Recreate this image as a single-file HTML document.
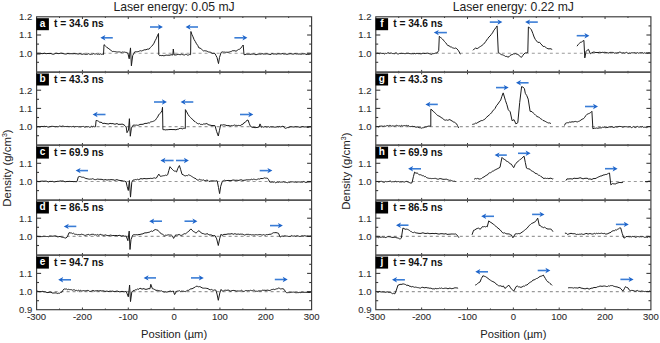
<!DOCTYPE html><html><head><meta charset="utf-8"><style>html,body{margin:0;padding:0;background:#fff;width:660px;height:343px;overflow:hidden}svg{display:block}</style></head><body><svg width="660" height="343" viewBox="0 0 660 343"><rect width="660" height="343" fill="#fff"/><line x1="36.6" y1="53.2" x2="311.6" y2="53.2" stroke="#9a9a9a" stroke-width="1.1" stroke-dasharray="3 3"/><line x1="36.6" y1="126.6" x2="311.6" y2="126.6" stroke="#9a9a9a" stroke-width="1.1" stroke-dasharray="3 3"/><line x1="36.6" y1="181.5" x2="311.6" y2="181.5" stroke="#9a9a9a" stroke-width="1.1" stroke-dasharray="3 3"/><line x1="36.6" y1="236.4" x2="311.6" y2="236.4" stroke="#9a9a9a" stroke-width="1.1" stroke-dasharray="3 3"/><line x1="36.6" y1="291.6" x2="311.6" y2="291.6" stroke="#9a9a9a" stroke-width="1.1" stroke-dasharray="3 3"/><line x1="36.6" y1="62.3" x2="39" y2="62.3" stroke="#3a3a3a" stroke-width="1.1"/><line x1="311.6" y1="62.3" x2="309.2" y2="62.3" stroke="#3a3a3a" stroke-width="1.1"/><line x1="36.6" y1="53.2" x2="41.1" y2="53.2" stroke="#3a3a3a" stroke-width="1.1"/><line x1="311.6" y1="53.2" x2="307.1" y2="53.2" stroke="#3a3a3a" stroke-width="1.1"/><line x1="36.6" y1="44.1" x2="39" y2="44.1" stroke="#3a3a3a" stroke-width="1.1"/><line x1="311.6" y1="44.1" x2="309.2" y2="44.1" stroke="#3a3a3a" stroke-width="1.1"/><line x1="36.6" y1="35" x2="41.1" y2="35" stroke="#3a3a3a" stroke-width="1.1"/><line x1="311.6" y1="35" x2="307.1" y2="35" stroke="#3a3a3a" stroke-width="1.1"/><line x1="36.6" y1="25.9" x2="39" y2="25.9" stroke="#3a3a3a" stroke-width="1.1"/><line x1="311.6" y1="25.9" x2="309.2" y2="25.9" stroke="#3a3a3a" stroke-width="1.1"/><line x1="59.52" y1="16.8" x2="59.52" y2="18" stroke="#3a3a3a" stroke-width="1"/><line x1="59.52" y1="72.1" x2="59.52" y2="70.9" stroke="#3a3a3a" stroke-width="1"/><line x1="82.43" y1="16.8" x2="82.43" y2="19" stroke="#3a3a3a" stroke-width="1"/><line x1="82.43" y1="72.1" x2="82.43" y2="69.9" stroke="#3a3a3a" stroke-width="1"/><line x1="105.35" y1="16.8" x2="105.35" y2="18" stroke="#3a3a3a" stroke-width="1"/><line x1="105.35" y1="72.1" x2="105.35" y2="70.9" stroke="#3a3a3a" stroke-width="1"/><line x1="128.27" y1="16.8" x2="128.27" y2="19" stroke="#3a3a3a" stroke-width="1"/><line x1="128.27" y1="72.1" x2="128.27" y2="69.9" stroke="#3a3a3a" stroke-width="1"/><line x1="151.18" y1="16.8" x2="151.18" y2="18" stroke="#3a3a3a" stroke-width="1"/><line x1="151.18" y1="72.1" x2="151.18" y2="70.9" stroke="#3a3a3a" stroke-width="1"/><line x1="174.1" y1="16.8" x2="174.1" y2="19" stroke="#3a3a3a" stroke-width="1"/><line x1="174.1" y1="72.1" x2="174.1" y2="69.9" stroke="#3a3a3a" stroke-width="1"/><line x1="197.02" y1="16.8" x2="197.02" y2="18" stroke="#3a3a3a" stroke-width="1"/><line x1="197.02" y1="72.1" x2="197.02" y2="70.9" stroke="#3a3a3a" stroke-width="1"/><line x1="219.93" y1="16.8" x2="219.93" y2="19" stroke="#3a3a3a" stroke-width="1"/><line x1="219.93" y1="72.1" x2="219.93" y2="69.9" stroke="#3a3a3a" stroke-width="1"/><line x1="242.85" y1="16.8" x2="242.85" y2="18" stroke="#3a3a3a" stroke-width="1"/><line x1="242.85" y1="72.1" x2="242.85" y2="70.9" stroke="#3a3a3a" stroke-width="1"/><line x1="265.77" y1="16.8" x2="265.77" y2="19" stroke="#3a3a3a" stroke-width="1"/><line x1="265.77" y1="72.1" x2="265.77" y2="69.9" stroke="#3a3a3a" stroke-width="1"/><line x1="288.68" y1="16.8" x2="288.68" y2="18" stroke="#3a3a3a" stroke-width="1"/><line x1="288.68" y1="72.1" x2="288.68" y2="70.9" stroke="#3a3a3a" stroke-width="1"/><line x1="36.6" y1="135.7" x2="39" y2="135.7" stroke="#3a3a3a" stroke-width="1.1"/><line x1="311.6" y1="135.7" x2="309.2" y2="135.7" stroke="#3a3a3a" stroke-width="1.1"/><line x1="36.6" y1="126.6" x2="41.1" y2="126.6" stroke="#3a3a3a" stroke-width="1.1"/><line x1="311.6" y1="126.6" x2="307.1" y2="126.6" stroke="#3a3a3a" stroke-width="1.1"/><line x1="36.6" y1="117.5" x2="39" y2="117.5" stroke="#3a3a3a" stroke-width="1.1"/><line x1="311.6" y1="117.5" x2="309.2" y2="117.5" stroke="#3a3a3a" stroke-width="1.1"/><line x1="36.6" y1="108.4" x2="41.1" y2="108.4" stroke="#3a3a3a" stroke-width="1.1"/><line x1="311.6" y1="108.4" x2="307.1" y2="108.4" stroke="#3a3a3a" stroke-width="1.1"/><line x1="36.6" y1="99.3" x2="39" y2="99.3" stroke="#3a3a3a" stroke-width="1.1"/><line x1="311.6" y1="99.3" x2="309.2" y2="99.3" stroke="#3a3a3a" stroke-width="1.1"/><line x1="36.6" y1="90.2" x2="41.1" y2="90.2" stroke="#3a3a3a" stroke-width="1.1"/><line x1="311.6" y1="90.2" x2="307.1" y2="90.2" stroke="#3a3a3a" stroke-width="1.1"/><line x1="36.6" y1="81.1" x2="39" y2="81.1" stroke="#3a3a3a" stroke-width="1.1"/><line x1="311.6" y1="81.1" x2="309.2" y2="81.1" stroke="#3a3a3a" stroke-width="1.1"/><line x1="59.52" y1="72.1" x2="59.52" y2="73.3" stroke="#3a3a3a" stroke-width="1"/><line x1="59.52" y1="145.2" x2="59.52" y2="144" stroke="#3a3a3a" stroke-width="1"/><line x1="82.43" y1="72.1" x2="82.43" y2="74.3" stroke="#3a3a3a" stroke-width="1"/><line x1="82.43" y1="145.2" x2="82.43" y2="143" stroke="#3a3a3a" stroke-width="1"/><line x1="105.35" y1="72.1" x2="105.35" y2="73.3" stroke="#3a3a3a" stroke-width="1"/><line x1="105.35" y1="145.2" x2="105.35" y2="144" stroke="#3a3a3a" stroke-width="1"/><line x1="128.27" y1="72.1" x2="128.27" y2="74.3" stroke="#3a3a3a" stroke-width="1"/><line x1="128.27" y1="145.2" x2="128.27" y2="143" stroke="#3a3a3a" stroke-width="1"/><line x1="151.18" y1="72.1" x2="151.18" y2="73.3" stroke="#3a3a3a" stroke-width="1"/><line x1="151.18" y1="145.2" x2="151.18" y2="144" stroke="#3a3a3a" stroke-width="1"/><line x1="174.1" y1="72.1" x2="174.1" y2="74.3" stroke="#3a3a3a" stroke-width="1"/><line x1="174.1" y1="145.2" x2="174.1" y2="143" stroke="#3a3a3a" stroke-width="1"/><line x1="197.02" y1="72.1" x2="197.02" y2="73.3" stroke="#3a3a3a" stroke-width="1"/><line x1="197.02" y1="145.2" x2="197.02" y2="144" stroke="#3a3a3a" stroke-width="1"/><line x1="219.93" y1="72.1" x2="219.93" y2="74.3" stroke="#3a3a3a" stroke-width="1"/><line x1="219.93" y1="145.2" x2="219.93" y2="143" stroke="#3a3a3a" stroke-width="1"/><line x1="242.85" y1="72.1" x2="242.85" y2="73.3" stroke="#3a3a3a" stroke-width="1"/><line x1="242.85" y1="145.2" x2="242.85" y2="144" stroke="#3a3a3a" stroke-width="1"/><line x1="265.77" y1="72.1" x2="265.77" y2="74.3" stroke="#3a3a3a" stroke-width="1"/><line x1="265.77" y1="145.2" x2="265.77" y2="143" stroke="#3a3a3a" stroke-width="1"/><line x1="288.68" y1="72.1" x2="288.68" y2="73.3" stroke="#3a3a3a" stroke-width="1"/><line x1="288.68" y1="145.2" x2="288.68" y2="144" stroke="#3a3a3a" stroke-width="1"/><line x1="36.6" y1="190.6" x2="39" y2="190.6" stroke="#3a3a3a" stroke-width="1.1"/><line x1="311.6" y1="190.6" x2="309.2" y2="190.6" stroke="#3a3a3a" stroke-width="1.1"/><line x1="36.6" y1="181.5" x2="41.1" y2="181.5" stroke="#3a3a3a" stroke-width="1.1"/><line x1="311.6" y1="181.5" x2="307.1" y2="181.5" stroke="#3a3a3a" stroke-width="1.1"/><line x1="36.6" y1="172.4" x2="39" y2="172.4" stroke="#3a3a3a" stroke-width="1.1"/><line x1="311.6" y1="172.4" x2="309.2" y2="172.4" stroke="#3a3a3a" stroke-width="1.1"/><line x1="36.6" y1="163.3" x2="41.1" y2="163.3" stroke="#3a3a3a" stroke-width="1.1"/><line x1="311.6" y1="163.3" x2="307.1" y2="163.3" stroke="#3a3a3a" stroke-width="1.1"/><line x1="36.6" y1="154.2" x2="39" y2="154.2" stroke="#3a3a3a" stroke-width="1.1"/><line x1="311.6" y1="154.2" x2="309.2" y2="154.2" stroke="#3a3a3a" stroke-width="1.1"/><line x1="59.52" y1="145.2" x2="59.52" y2="146.4" stroke="#3a3a3a" stroke-width="1"/><line x1="59.52" y1="200.1" x2="59.52" y2="198.9" stroke="#3a3a3a" stroke-width="1"/><line x1="82.43" y1="145.2" x2="82.43" y2="147.4" stroke="#3a3a3a" stroke-width="1"/><line x1="82.43" y1="200.1" x2="82.43" y2="197.9" stroke="#3a3a3a" stroke-width="1"/><line x1="105.35" y1="145.2" x2="105.35" y2="146.4" stroke="#3a3a3a" stroke-width="1"/><line x1="105.35" y1="200.1" x2="105.35" y2="198.9" stroke="#3a3a3a" stroke-width="1"/><line x1="128.27" y1="145.2" x2="128.27" y2="147.4" stroke="#3a3a3a" stroke-width="1"/><line x1="128.27" y1="200.1" x2="128.27" y2="197.9" stroke="#3a3a3a" stroke-width="1"/><line x1="151.18" y1="145.2" x2="151.18" y2="146.4" stroke="#3a3a3a" stroke-width="1"/><line x1="151.18" y1="200.1" x2="151.18" y2="198.9" stroke="#3a3a3a" stroke-width="1"/><line x1="174.1" y1="145.2" x2="174.1" y2="147.4" stroke="#3a3a3a" stroke-width="1"/><line x1="174.1" y1="200.1" x2="174.1" y2="197.9" stroke="#3a3a3a" stroke-width="1"/><line x1="197.02" y1="145.2" x2="197.02" y2="146.4" stroke="#3a3a3a" stroke-width="1"/><line x1="197.02" y1="200.1" x2="197.02" y2="198.9" stroke="#3a3a3a" stroke-width="1"/><line x1="219.93" y1="145.2" x2="219.93" y2="147.4" stroke="#3a3a3a" stroke-width="1"/><line x1="219.93" y1="200.1" x2="219.93" y2="197.9" stroke="#3a3a3a" stroke-width="1"/><line x1="242.85" y1="145.2" x2="242.85" y2="146.4" stroke="#3a3a3a" stroke-width="1"/><line x1="242.85" y1="200.1" x2="242.85" y2="198.9" stroke="#3a3a3a" stroke-width="1"/><line x1="265.77" y1="145.2" x2="265.77" y2="147.4" stroke="#3a3a3a" stroke-width="1"/><line x1="265.77" y1="200.1" x2="265.77" y2="197.9" stroke="#3a3a3a" stroke-width="1"/><line x1="288.68" y1="145.2" x2="288.68" y2="146.4" stroke="#3a3a3a" stroke-width="1"/><line x1="288.68" y1="200.1" x2="288.68" y2="198.9" stroke="#3a3a3a" stroke-width="1"/><line x1="36.6" y1="245.5" x2="39" y2="245.5" stroke="#3a3a3a" stroke-width="1.1"/><line x1="311.6" y1="245.5" x2="309.2" y2="245.5" stroke="#3a3a3a" stroke-width="1.1"/><line x1="36.6" y1="236.4" x2="41.1" y2="236.4" stroke="#3a3a3a" stroke-width="1.1"/><line x1="311.6" y1="236.4" x2="307.1" y2="236.4" stroke="#3a3a3a" stroke-width="1.1"/><line x1="36.6" y1="227.3" x2="39" y2="227.3" stroke="#3a3a3a" stroke-width="1.1"/><line x1="311.6" y1="227.3" x2="309.2" y2="227.3" stroke="#3a3a3a" stroke-width="1.1"/><line x1="36.6" y1="218.2" x2="41.1" y2="218.2" stroke="#3a3a3a" stroke-width="1.1"/><line x1="311.6" y1="218.2" x2="307.1" y2="218.2" stroke="#3a3a3a" stroke-width="1.1"/><line x1="36.6" y1="209.1" x2="39" y2="209.1" stroke="#3a3a3a" stroke-width="1.1"/><line x1="311.6" y1="209.1" x2="309.2" y2="209.1" stroke="#3a3a3a" stroke-width="1.1"/><line x1="59.52" y1="200.1" x2="59.52" y2="201.3" stroke="#3a3a3a" stroke-width="1"/><line x1="59.52" y1="255.2" x2="59.52" y2="254" stroke="#3a3a3a" stroke-width="1"/><line x1="82.43" y1="200.1" x2="82.43" y2="202.3" stroke="#3a3a3a" stroke-width="1"/><line x1="82.43" y1="255.2" x2="82.43" y2="253" stroke="#3a3a3a" stroke-width="1"/><line x1="105.35" y1="200.1" x2="105.35" y2="201.3" stroke="#3a3a3a" stroke-width="1"/><line x1="105.35" y1="255.2" x2="105.35" y2="254" stroke="#3a3a3a" stroke-width="1"/><line x1="128.27" y1="200.1" x2="128.27" y2="202.3" stroke="#3a3a3a" stroke-width="1"/><line x1="128.27" y1="255.2" x2="128.27" y2="253" stroke="#3a3a3a" stroke-width="1"/><line x1="151.18" y1="200.1" x2="151.18" y2="201.3" stroke="#3a3a3a" stroke-width="1"/><line x1="151.18" y1="255.2" x2="151.18" y2="254" stroke="#3a3a3a" stroke-width="1"/><line x1="174.1" y1="200.1" x2="174.1" y2="202.3" stroke="#3a3a3a" stroke-width="1"/><line x1="174.1" y1="255.2" x2="174.1" y2="253" stroke="#3a3a3a" stroke-width="1"/><line x1="197.02" y1="200.1" x2="197.02" y2="201.3" stroke="#3a3a3a" stroke-width="1"/><line x1="197.02" y1="255.2" x2="197.02" y2="254" stroke="#3a3a3a" stroke-width="1"/><line x1="219.93" y1="200.1" x2="219.93" y2="202.3" stroke="#3a3a3a" stroke-width="1"/><line x1="219.93" y1="255.2" x2="219.93" y2="253" stroke="#3a3a3a" stroke-width="1"/><line x1="242.85" y1="200.1" x2="242.85" y2="201.3" stroke="#3a3a3a" stroke-width="1"/><line x1="242.85" y1="255.2" x2="242.85" y2="254" stroke="#3a3a3a" stroke-width="1"/><line x1="265.77" y1="200.1" x2="265.77" y2="202.3" stroke="#3a3a3a" stroke-width="1"/><line x1="265.77" y1="255.2" x2="265.77" y2="253" stroke="#3a3a3a" stroke-width="1"/><line x1="288.68" y1="200.1" x2="288.68" y2="201.3" stroke="#3a3a3a" stroke-width="1"/><line x1="288.68" y1="255.2" x2="288.68" y2="254" stroke="#3a3a3a" stroke-width="1"/><line x1="36.6" y1="300.7" x2="39" y2="300.7" stroke="#3a3a3a" stroke-width="1.1"/><line x1="311.6" y1="300.7" x2="309.2" y2="300.7" stroke="#3a3a3a" stroke-width="1.1"/><line x1="36.6" y1="291.6" x2="41.1" y2="291.6" stroke="#3a3a3a" stroke-width="1.1"/><line x1="311.6" y1="291.6" x2="307.1" y2="291.6" stroke="#3a3a3a" stroke-width="1.1"/><line x1="36.6" y1="282.5" x2="39" y2="282.5" stroke="#3a3a3a" stroke-width="1.1"/><line x1="311.6" y1="282.5" x2="309.2" y2="282.5" stroke="#3a3a3a" stroke-width="1.1"/><line x1="36.6" y1="273.4" x2="41.1" y2="273.4" stroke="#3a3a3a" stroke-width="1.1"/><line x1="311.6" y1="273.4" x2="307.1" y2="273.4" stroke="#3a3a3a" stroke-width="1.1"/><line x1="36.6" y1="264.3" x2="39" y2="264.3" stroke="#3a3a3a" stroke-width="1.1"/><line x1="311.6" y1="264.3" x2="309.2" y2="264.3" stroke="#3a3a3a" stroke-width="1.1"/><line x1="59.52" y1="255.2" x2="59.52" y2="256.4" stroke="#3a3a3a" stroke-width="1"/><line x1="59.52" y1="309.7" x2="59.52" y2="308.5" stroke="#3a3a3a" stroke-width="1"/><line x1="82.43" y1="255.2" x2="82.43" y2="257.4" stroke="#3a3a3a" stroke-width="1"/><line x1="82.43" y1="309.7" x2="82.43" y2="307.5" stroke="#3a3a3a" stroke-width="1"/><line x1="105.35" y1="255.2" x2="105.35" y2="256.4" stroke="#3a3a3a" stroke-width="1"/><line x1="105.35" y1="309.7" x2="105.35" y2="308.5" stroke="#3a3a3a" stroke-width="1"/><line x1="128.27" y1="255.2" x2="128.27" y2="257.4" stroke="#3a3a3a" stroke-width="1"/><line x1="128.27" y1="309.7" x2="128.27" y2="307.5" stroke="#3a3a3a" stroke-width="1"/><line x1="151.18" y1="255.2" x2="151.18" y2="256.4" stroke="#3a3a3a" stroke-width="1"/><line x1="151.18" y1="309.7" x2="151.18" y2="308.5" stroke="#3a3a3a" stroke-width="1"/><line x1="174.1" y1="255.2" x2="174.1" y2="257.4" stroke="#3a3a3a" stroke-width="1"/><line x1="174.1" y1="309.7" x2="174.1" y2="307.5" stroke="#3a3a3a" stroke-width="1"/><line x1="197.02" y1="255.2" x2="197.02" y2="256.4" stroke="#3a3a3a" stroke-width="1"/><line x1="197.02" y1="309.7" x2="197.02" y2="308.5" stroke="#3a3a3a" stroke-width="1"/><line x1="219.93" y1="255.2" x2="219.93" y2="257.4" stroke="#3a3a3a" stroke-width="1"/><line x1="219.93" y1="309.7" x2="219.93" y2="307.5" stroke="#3a3a3a" stroke-width="1"/><line x1="242.85" y1="255.2" x2="242.85" y2="256.4" stroke="#3a3a3a" stroke-width="1"/><line x1="242.85" y1="309.7" x2="242.85" y2="308.5" stroke="#3a3a3a" stroke-width="1"/><line x1="265.77" y1="255.2" x2="265.77" y2="257.4" stroke="#3a3a3a" stroke-width="1"/><line x1="265.77" y1="309.7" x2="265.77" y2="307.5" stroke="#3a3a3a" stroke-width="1"/><line x1="288.68" y1="255.2" x2="288.68" y2="256.4" stroke="#3a3a3a" stroke-width="1"/><line x1="288.68" y1="309.7" x2="288.68" y2="308.5" stroke="#3a3a3a" stroke-width="1"/><rect x="36.6" y="16.8" width="275" height="292.9" fill="none" stroke="#3a3a3a" stroke-width="1.15"/><line x1="36.6" y1="72.1" x2="311.6" y2="72.1" stroke="#555555" stroke-width="1.8"/><line x1="36.6" y1="145.2" x2="311.6" y2="145.2" stroke="#555555" stroke-width="1.8"/><line x1="36.6" y1="200.1" x2="311.6" y2="200.1" stroke="#555555" stroke-width="1.8"/><line x1="36.6" y1="255.2" x2="311.6" y2="255.2" stroke="#555555" stroke-width="1.8"/><line x1="375.8" y1="53.2" x2="650.9" y2="53.2" stroke="#9a9a9a" stroke-width="1.1" stroke-dasharray="3 3"/><line x1="375.8" y1="126.6" x2="650.9" y2="126.6" stroke="#9a9a9a" stroke-width="1.1" stroke-dasharray="3 3"/><line x1="375.8" y1="181.5" x2="650.9" y2="181.5" stroke="#9a9a9a" stroke-width="1.1" stroke-dasharray="3 3"/><line x1="375.8" y1="236.4" x2="650.9" y2="236.4" stroke="#9a9a9a" stroke-width="1.1" stroke-dasharray="3 3"/><line x1="375.8" y1="291.6" x2="650.9" y2="291.6" stroke="#9a9a9a" stroke-width="1.1" stroke-dasharray="3 3"/><line x1="375.8" y1="62.3" x2="378.2" y2="62.3" stroke="#3a3a3a" stroke-width="1.1"/><line x1="650.9" y1="62.3" x2="648.5" y2="62.3" stroke="#3a3a3a" stroke-width="1.1"/><line x1="375.8" y1="53.2" x2="380.3" y2="53.2" stroke="#3a3a3a" stroke-width="1.1"/><line x1="650.9" y1="53.2" x2="646.4" y2="53.2" stroke="#3a3a3a" stroke-width="1.1"/><line x1="375.8" y1="44.1" x2="378.2" y2="44.1" stroke="#3a3a3a" stroke-width="1.1"/><line x1="650.9" y1="44.1" x2="648.5" y2="44.1" stroke="#3a3a3a" stroke-width="1.1"/><line x1="375.8" y1="35" x2="380.3" y2="35" stroke="#3a3a3a" stroke-width="1.1"/><line x1="650.9" y1="35" x2="646.4" y2="35" stroke="#3a3a3a" stroke-width="1.1"/><line x1="375.8" y1="25.9" x2="378.2" y2="25.9" stroke="#3a3a3a" stroke-width="1.1"/><line x1="650.9" y1="25.9" x2="648.5" y2="25.9" stroke="#3a3a3a" stroke-width="1.1"/><line x1="398.73" y1="16.8" x2="398.73" y2="18" stroke="#3a3a3a" stroke-width="1"/><line x1="398.73" y1="72.1" x2="398.73" y2="70.9" stroke="#3a3a3a" stroke-width="1"/><line x1="421.65" y1="16.8" x2="421.65" y2="19" stroke="#3a3a3a" stroke-width="1"/><line x1="421.65" y1="72.1" x2="421.65" y2="69.9" stroke="#3a3a3a" stroke-width="1"/><line x1="444.57" y1="16.8" x2="444.57" y2="18" stroke="#3a3a3a" stroke-width="1"/><line x1="444.57" y1="72.1" x2="444.57" y2="70.9" stroke="#3a3a3a" stroke-width="1"/><line x1="467.5" y1="16.8" x2="467.5" y2="19" stroke="#3a3a3a" stroke-width="1"/><line x1="467.5" y1="72.1" x2="467.5" y2="69.9" stroke="#3a3a3a" stroke-width="1"/><line x1="490.43" y1="16.8" x2="490.43" y2="18" stroke="#3a3a3a" stroke-width="1"/><line x1="490.43" y1="72.1" x2="490.43" y2="70.9" stroke="#3a3a3a" stroke-width="1"/><line x1="513.35" y1="16.8" x2="513.35" y2="19" stroke="#3a3a3a" stroke-width="1"/><line x1="513.35" y1="72.1" x2="513.35" y2="69.9" stroke="#3a3a3a" stroke-width="1"/><line x1="536.27" y1="16.8" x2="536.27" y2="18" stroke="#3a3a3a" stroke-width="1"/><line x1="536.27" y1="72.1" x2="536.27" y2="70.9" stroke="#3a3a3a" stroke-width="1"/><line x1="559.2" y1="16.8" x2="559.2" y2="19" stroke="#3a3a3a" stroke-width="1"/><line x1="559.2" y1="72.1" x2="559.2" y2="69.9" stroke="#3a3a3a" stroke-width="1"/><line x1="582.12" y1="16.8" x2="582.12" y2="18" stroke="#3a3a3a" stroke-width="1"/><line x1="582.12" y1="72.1" x2="582.12" y2="70.9" stroke="#3a3a3a" stroke-width="1"/><line x1="605.05" y1="16.8" x2="605.05" y2="19" stroke="#3a3a3a" stroke-width="1"/><line x1="605.05" y1="72.1" x2="605.05" y2="69.9" stroke="#3a3a3a" stroke-width="1"/><line x1="627.97" y1="16.8" x2="627.97" y2="18" stroke="#3a3a3a" stroke-width="1"/><line x1="627.97" y1="72.1" x2="627.97" y2="70.9" stroke="#3a3a3a" stroke-width="1"/><line x1="375.8" y1="135.7" x2="378.2" y2="135.7" stroke="#3a3a3a" stroke-width="1.1"/><line x1="650.9" y1="135.7" x2="648.5" y2="135.7" stroke="#3a3a3a" stroke-width="1.1"/><line x1="375.8" y1="126.6" x2="380.3" y2="126.6" stroke="#3a3a3a" stroke-width="1.1"/><line x1="650.9" y1="126.6" x2="646.4" y2="126.6" stroke="#3a3a3a" stroke-width="1.1"/><line x1="375.8" y1="117.5" x2="378.2" y2="117.5" stroke="#3a3a3a" stroke-width="1.1"/><line x1="650.9" y1="117.5" x2="648.5" y2="117.5" stroke="#3a3a3a" stroke-width="1.1"/><line x1="375.8" y1="108.4" x2="380.3" y2="108.4" stroke="#3a3a3a" stroke-width="1.1"/><line x1="650.9" y1="108.4" x2="646.4" y2="108.4" stroke="#3a3a3a" stroke-width="1.1"/><line x1="375.8" y1="99.3" x2="378.2" y2="99.3" stroke="#3a3a3a" stroke-width="1.1"/><line x1="650.9" y1="99.3" x2="648.5" y2="99.3" stroke="#3a3a3a" stroke-width="1.1"/><line x1="375.8" y1="90.2" x2="380.3" y2="90.2" stroke="#3a3a3a" stroke-width="1.1"/><line x1="650.9" y1="90.2" x2="646.4" y2="90.2" stroke="#3a3a3a" stroke-width="1.1"/><line x1="375.8" y1="81.1" x2="378.2" y2="81.1" stroke="#3a3a3a" stroke-width="1.1"/><line x1="650.9" y1="81.1" x2="648.5" y2="81.1" stroke="#3a3a3a" stroke-width="1.1"/><line x1="398.73" y1="72.1" x2="398.73" y2="73.3" stroke="#3a3a3a" stroke-width="1"/><line x1="398.73" y1="145.2" x2="398.73" y2="144" stroke="#3a3a3a" stroke-width="1"/><line x1="421.65" y1="72.1" x2="421.65" y2="74.3" stroke="#3a3a3a" stroke-width="1"/><line x1="421.65" y1="145.2" x2="421.65" y2="143" stroke="#3a3a3a" stroke-width="1"/><line x1="444.57" y1="72.1" x2="444.57" y2="73.3" stroke="#3a3a3a" stroke-width="1"/><line x1="444.57" y1="145.2" x2="444.57" y2="144" stroke="#3a3a3a" stroke-width="1"/><line x1="467.5" y1="72.1" x2="467.5" y2="74.3" stroke="#3a3a3a" stroke-width="1"/><line x1="467.5" y1="145.2" x2="467.5" y2="143" stroke="#3a3a3a" stroke-width="1"/><line x1="490.43" y1="72.1" x2="490.43" y2="73.3" stroke="#3a3a3a" stroke-width="1"/><line x1="490.43" y1="145.2" x2="490.43" y2="144" stroke="#3a3a3a" stroke-width="1"/><line x1="513.35" y1="72.1" x2="513.35" y2="74.3" stroke="#3a3a3a" stroke-width="1"/><line x1="513.35" y1="145.2" x2="513.35" y2="143" stroke="#3a3a3a" stroke-width="1"/><line x1="536.27" y1="72.1" x2="536.27" y2="73.3" stroke="#3a3a3a" stroke-width="1"/><line x1="536.27" y1="145.2" x2="536.27" y2="144" stroke="#3a3a3a" stroke-width="1"/><line x1="559.2" y1="72.1" x2="559.2" y2="74.3" stroke="#3a3a3a" stroke-width="1"/><line x1="559.2" y1="145.2" x2="559.2" y2="143" stroke="#3a3a3a" stroke-width="1"/><line x1="582.12" y1="72.1" x2="582.12" y2="73.3" stroke="#3a3a3a" stroke-width="1"/><line x1="582.12" y1="145.2" x2="582.12" y2="144" stroke="#3a3a3a" stroke-width="1"/><line x1="605.05" y1="72.1" x2="605.05" y2="74.3" stroke="#3a3a3a" stroke-width="1"/><line x1="605.05" y1="145.2" x2="605.05" y2="143" stroke="#3a3a3a" stroke-width="1"/><line x1="627.97" y1="72.1" x2="627.97" y2="73.3" stroke="#3a3a3a" stroke-width="1"/><line x1="627.97" y1="145.2" x2="627.97" y2="144" stroke="#3a3a3a" stroke-width="1"/><line x1="375.8" y1="190.6" x2="378.2" y2="190.6" stroke="#3a3a3a" stroke-width="1.1"/><line x1="650.9" y1="190.6" x2="648.5" y2="190.6" stroke="#3a3a3a" stroke-width="1.1"/><line x1="375.8" y1="181.5" x2="380.3" y2="181.5" stroke="#3a3a3a" stroke-width="1.1"/><line x1="650.9" y1="181.5" x2="646.4" y2="181.5" stroke="#3a3a3a" stroke-width="1.1"/><line x1="375.8" y1="172.4" x2="378.2" y2="172.4" stroke="#3a3a3a" stroke-width="1.1"/><line x1="650.9" y1="172.4" x2="648.5" y2="172.4" stroke="#3a3a3a" stroke-width="1.1"/><line x1="375.8" y1="163.3" x2="380.3" y2="163.3" stroke="#3a3a3a" stroke-width="1.1"/><line x1="650.9" y1="163.3" x2="646.4" y2="163.3" stroke="#3a3a3a" stroke-width="1.1"/><line x1="375.8" y1="154.2" x2="378.2" y2="154.2" stroke="#3a3a3a" stroke-width="1.1"/><line x1="650.9" y1="154.2" x2="648.5" y2="154.2" stroke="#3a3a3a" stroke-width="1.1"/><line x1="398.73" y1="145.2" x2="398.73" y2="146.4" stroke="#3a3a3a" stroke-width="1"/><line x1="398.73" y1="200.1" x2="398.73" y2="198.9" stroke="#3a3a3a" stroke-width="1"/><line x1="421.65" y1="145.2" x2="421.65" y2="147.4" stroke="#3a3a3a" stroke-width="1"/><line x1="421.65" y1="200.1" x2="421.65" y2="197.9" stroke="#3a3a3a" stroke-width="1"/><line x1="444.57" y1="145.2" x2="444.57" y2="146.4" stroke="#3a3a3a" stroke-width="1"/><line x1="444.57" y1="200.1" x2="444.57" y2="198.9" stroke="#3a3a3a" stroke-width="1"/><line x1="467.5" y1="145.2" x2="467.5" y2="147.4" stroke="#3a3a3a" stroke-width="1"/><line x1="467.5" y1="200.1" x2="467.5" y2="197.9" stroke="#3a3a3a" stroke-width="1"/><line x1="490.43" y1="145.2" x2="490.43" y2="146.4" stroke="#3a3a3a" stroke-width="1"/><line x1="490.43" y1="200.1" x2="490.43" y2="198.9" stroke="#3a3a3a" stroke-width="1"/><line x1="513.35" y1="145.2" x2="513.35" y2="147.4" stroke="#3a3a3a" stroke-width="1"/><line x1="513.35" y1="200.1" x2="513.35" y2="197.9" stroke="#3a3a3a" stroke-width="1"/><line x1="536.27" y1="145.2" x2="536.27" y2="146.4" stroke="#3a3a3a" stroke-width="1"/><line x1="536.27" y1="200.1" x2="536.27" y2="198.9" stroke="#3a3a3a" stroke-width="1"/><line x1="559.2" y1="145.2" x2="559.2" y2="147.4" stroke="#3a3a3a" stroke-width="1"/><line x1="559.2" y1="200.1" x2="559.2" y2="197.9" stroke="#3a3a3a" stroke-width="1"/><line x1="582.12" y1="145.2" x2="582.12" y2="146.4" stroke="#3a3a3a" stroke-width="1"/><line x1="582.12" y1="200.1" x2="582.12" y2="198.9" stroke="#3a3a3a" stroke-width="1"/><line x1="605.05" y1="145.2" x2="605.05" y2="147.4" stroke="#3a3a3a" stroke-width="1"/><line x1="605.05" y1="200.1" x2="605.05" y2="197.9" stroke="#3a3a3a" stroke-width="1"/><line x1="627.97" y1="145.2" x2="627.97" y2="146.4" stroke="#3a3a3a" stroke-width="1"/><line x1="627.97" y1="200.1" x2="627.97" y2="198.9" stroke="#3a3a3a" stroke-width="1"/><line x1="375.8" y1="245.5" x2="378.2" y2="245.5" stroke="#3a3a3a" stroke-width="1.1"/><line x1="650.9" y1="245.5" x2="648.5" y2="245.5" stroke="#3a3a3a" stroke-width="1.1"/><line x1="375.8" y1="236.4" x2="380.3" y2="236.4" stroke="#3a3a3a" stroke-width="1.1"/><line x1="650.9" y1="236.4" x2="646.4" y2="236.4" stroke="#3a3a3a" stroke-width="1.1"/><line x1="375.8" y1="227.3" x2="378.2" y2="227.3" stroke="#3a3a3a" stroke-width="1.1"/><line x1="650.9" y1="227.3" x2="648.5" y2="227.3" stroke="#3a3a3a" stroke-width="1.1"/><line x1="375.8" y1="218.2" x2="380.3" y2="218.2" stroke="#3a3a3a" stroke-width="1.1"/><line x1="650.9" y1="218.2" x2="646.4" y2="218.2" stroke="#3a3a3a" stroke-width="1.1"/><line x1="375.8" y1="209.1" x2="378.2" y2="209.1" stroke="#3a3a3a" stroke-width="1.1"/><line x1="650.9" y1="209.1" x2="648.5" y2="209.1" stroke="#3a3a3a" stroke-width="1.1"/><line x1="398.73" y1="200.1" x2="398.73" y2="201.3" stroke="#3a3a3a" stroke-width="1"/><line x1="398.73" y1="255.2" x2="398.73" y2="254" stroke="#3a3a3a" stroke-width="1"/><line x1="421.65" y1="200.1" x2="421.65" y2="202.3" stroke="#3a3a3a" stroke-width="1"/><line x1="421.65" y1="255.2" x2="421.65" y2="253" stroke="#3a3a3a" stroke-width="1"/><line x1="444.57" y1="200.1" x2="444.57" y2="201.3" stroke="#3a3a3a" stroke-width="1"/><line x1="444.57" y1="255.2" x2="444.57" y2="254" stroke="#3a3a3a" stroke-width="1"/><line x1="467.5" y1="200.1" x2="467.5" y2="202.3" stroke="#3a3a3a" stroke-width="1"/><line x1="467.5" y1="255.2" x2="467.5" y2="253" stroke="#3a3a3a" stroke-width="1"/><line x1="490.43" y1="200.1" x2="490.43" y2="201.3" stroke="#3a3a3a" stroke-width="1"/><line x1="490.43" y1="255.2" x2="490.43" y2="254" stroke="#3a3a3a" stroke-width="1"/><line x1="513.35" y1="200.1" x2="513.35" y2="202.3" stroke="#3a3a3a" stroke-width="1"/><line x1="513.35" y1="255.2" x2="513.35" y2="253" stroke="#3a3a3a" stroke-width="1"/><line x1="536.27" y1="200.1" x2="536.27" y2="201.3" stroke="#3a3a3a" stroke-width="1"/><line x1="536.27" y1="255.2" x2="536.27" y2="254" stroke="#3a3a3a" stroke-width="1"/><line x1="559.2" y1="200.1" x2="559.2" y2="202.3" stroke="#3a3a3a" stroke-width="1"/><line x1="559.2" y1="255.2" x2="559.2" y2="253" stroke="#3a3a3a" stroke-width="1"/><line x1="582.12" y1="200.1" x2="582.12" y2="201.3" stroke="#3a3a3a" stroke-width="1"/><line x1="582.12" y1="255.2" x2="582.12" y2="254" stroke="#3a3a3a" stroke-width="1"/><line x1="605.05" y1="200.1" x2="605.05" y2="202.3" stroke="#3a3a3a" stroke-width="1"/><line x1="605.05" y1="255.2" x2="605.05" y2="253" stroke="#3a3a3a" stroke-width="1"/><line x1="627.97" y1="200.1" x2="627.97" y2="201.3" stroke="#3a3a3a" stroke-width="1"/><line x1="627.97" y1="255.2" x2="627.97" y2="254" stroke="#3a3a3a" stroke-width="1"/><line x1="375.8" y1="300.7" x2="378.2" y2="300.7" stroke="#3a3a3a" stroke-width="1.1"/><line x1="650.9" y1="300.7" x2="648.5" y2="300.7" stroke="#3a3a3a" stroke-width="1.1"/><line x1="375.8" y1="291.6" x2="380.3" y2="291.6" stroke="#3a3a3a" stroke-width="1.1"/><line x1="650.9" y1="291.6" x2="646.4" y2="291.6" stroke="#3a3a3a" stroke-width="1.1"/><line x1="375.8" y1="282.5" x2="378.2" y2="282.5" stroke="#3a3a3a" stroke-width="1.1"/><line x1="650.9" y1="282.5" x2="648.5" y2="282.5" stroke="#3a3a3a" stroke-width="1.1"/><line x1="375.8" y1="273.4" x2="380.3" y2="273.4" stroke="#3a3a3a" stroke-width="1.1"/><line x1="650.9" y1="273.4" x2="646.4" y2="273.4" stroke="#3a3a3a" stroke-width="1.1"/><line x1="375.8" y1="264.3" x2="378.2" y2="264.3" stroke="#3a3a3a" stroke-width="1.1"/><line x1="650.9" y1="264.3" x2="648.5" y2="264.3" stroke="#3a3a3a" stroke-width="1.1"/><line x1="398.73" y1="255.2" x2="398.73" y2="256.4" stroke="#3a3a3a" stroke-width="1"/><line x1="398.73" y1="309.7" x2="398.73" y2="308.5" stroke="#3a3a3a" stroke-width="1"/><line x1="421.65" y1="255.2" x2="421.65" y2="257.4" stroke="#3a3a3a" stroke-width="1"/><line x1="421.65" y1="309.7" x2="421.65" y2="307.5" stroke="#3a3a3a" stroke-width="1"/><line x1="444.57" y1="255.2" x2="444.57" y2="256.4" stroke="#3a3a3a" stroke-width="1"/><line x1="444.57" y1="309.7" x2="444.57" y2="308.5" stroke="#3a3a3a" stroke-width="1"/><line x1="467.5" y1="255.2" x2="467.5" y2="257.4" stroke="#3a3a3a" stroke-width="1"/><line x1="467.5" y1="309.7" x2="467.5" y2="307.5" stroke="#3a3a3a" stroke-width="1"/><line x1="490.43" y1="255.2" x2="490.43" y2="256.4" stroke="#3a3a3a" stroke-width="1"/><line x1="490.43" y1="309.7" x2="490.43" y2="308.5" stroke="#3a3a3a" stroke-width="1"/><line x1="513.35" y1="255.2" x2="513.35" y2="257.4" stroke="#3a3a3a" stroke-width="1"/><line x1="513.35" y1="309.7" x2="513.35" y2="307.5" stroke="#3a3a3a" stroke-width="1"/><line x1="536.27" y1="255.2" x2="536.27" y2="256.4" stroke="#3a3a3a" stroke-width="1"/><line x1="536.27" y1="309.7" x2="536.27" y2="308.5" stroke="#3a3a3a" stroke-width="1"/><line x1="559.2" y1="255.2" x2="559.2" y2="257.4" stroke="#3a3a3a" stroke-width="1"/><line x1="559.2" y1="309.7" x2="559.2" y2="307.5" stroke="#3a3a3a" stroke-width="1"/><line x1="582.12" y1="255.2" x2="582.12" y2="256.4" stroke="#3a3a3a" stroke-width="1"/><line x1="582.12" y1="309.7" x2="582.12" y2="308.5" stroke="#3a3a3a" stroke-width="1"/><line x1="605.05" y1="255.2" x2="605.05" y2="257.4" stroke="#3a3a3a" stroke-width="1"/><line x1="605.05" y1="309.7" x2="605.05" y2="307.5" stroke="#3a3a3a" stroke-width="1"/><line x1="627.97" y1="255.2" x2="627.97" y2="256.4" stroke="#3a3a3a" stroke-width="1"/><line x1="627.97" y1="309.7" x2="627.97" y2="308.5" stroke="#3a3a3a" stroke-width="1"/><rect x="375.8" y="16.8" width="275.1" height="292.9" fill="none" stroke="#3a3a3a" stroke-width="1.15"/><line x1="375.8" y1="72.1" x2="650.9" y2="72.1" stroke="#555555" stroke-width="1.8"/><line x1="375.8" y1="145.2" x2="650.9" y2="145.2" stroke="#555555" stroke-width="1.8"/><line x1="375.8" y1="200.1" x2="650.9" y2="200.1" stroke="#555555" stroke-width="1.8"/><line x1="375.8" y1="255.2" x2="650.9" y2="255.2" stroke="#555555" stroke-width="1.8"/><path d="M37.0,54.1 38.0,53.9 39.0,54.0 40.0,53.9 41.0,53.6 42.0,53.5 43.0,53.8 44.0,53.2 45.0,53.3 46.0,53.8 47.0,53.5 48.0,53.5 49.0,53.5 50.0,53.6 51.0,53.4 52.0,54.1 53.0,54.1 54.0,54.2 55.0,53.5 56.0,53.2 57.0,53.3 58.0,53.6 59.0,53.6 60.0,53.3 61.0,53.1 62.0,53.3 63.0,53.5 64.0,53.8 65.0,54.0 66.0,54.0 67.0,53.8 68.0,53.3 69.0,53.9 70.0,53.6 71.0,53.8 72.0,53.6 73.0,53.9 74.0,53.5 75.0,53.7 76.0,53.8 77.0,53.7 78.0,54.2 79.0,53.8 80.0,53.7 81.0,53.9 82.1,54.4 83.1,54.0 84.1,53.9 85.2,54.4 86.2,54.3 87.2,54.4 88.3,53.6 89.3,54.1 90.3,54.5 91.3,54.2 92.4,54.2 93.4,53.6 94.4,54.0 95.5,54.0 96.5,53.8 97.5,54.3 98.6,54.1 99.6,54.4 100.6,53.8 101.7,54.4 102.7,54.2 103.5,54.5 104.0,44.7 105.0,45.4 106.0,46.6 107.0,47.7 108.0,47.9 109.1,49.0 110.2,49.8 111.2,50.5 112.3,51.5 113.3,51.4 114.4,51.5 115.4,51.6 116.4,51.9 117.4,52.0 118.5,51.9 119.5,51.9 120.5,52.2 121.6,52.4 122.6,52.0 123.6,52.2 124.6,52.1 125.7,52.4 126.7,52.5 127.9,53.3 129.2,58.8 130.5,47.9 131.4,65.8 132.7,55.6 133.8,53.5 134.8,51.8 135.8,51.8 136.8,51.8 137.8,51.7 138.8,51.4 139.6,51.0 140.7,50.7 141.7,51.0 142.8,50.5 143.9,50.0 144.9,49.7 146.0,49.9 147.1,49.1 148.1,49.2 149.2,49.0 150.4,47.5 151.6,46.3 152.8,45.0 154.0,43.2 155.1,40.7 156.2,38.8 157.4,35.8 158.5,33.5 158.8,54.9 159.8,55.7 160.8,55.4 161.8,55.7 162.9,55.4 163.9,55.9 164.9,55.5 165.9,55.2 166.9,55.1 167.9,55.3 169.0,55.1 170.0,55.3 171.0,54.6 172.0,55.0 172.8,55.0 173.3,49.0 174.0,54.9 175.0,54.9 176.1,55.0 177.1,54.5 178.2,54.3 179.2,54.5 180.2,54.8 181.3,54.2 182.3,54.5 183.3,54.8 184.4,55.0 185.4,54.4 186.4,54.4 187.5,55.1 188.5,55.0 189.6,54.5 190.6,54.7 190.9,31.5 192.0,34.8 193.0,36.8 194.1,39.6 195.3,41.5 196.5,43.8 197.7,45.4 198.9,47.9 200.1,48.1 201.3,49.0 202.5,50.1 203.7,51.0 204.7,50.7 205.8,50.9 206.8,51.1 207.8,51.6 208.8,52.1 209.9,52.1 210.9,52.4 211.9,53.1 212.9,53.5 214.0,53.1 215.0,53.6 216.0,55.6 217.0,57.5 218.5,63.6 219.5,57.4 221.1,52.5 222.2,51.9 223.4,52.1 224.6,52.1 225.7,52.3 226.8,52.2 228.0,52.3 229.2,52.1 230.4,51.6 231.6,51.3 232.8,50.6 233.9,50.8 234.9,50.7 236.0,51.3 237.2,50.4 238.4,49.5 239.6,49.2 240.8,48.2 242.0,46.5 243.2,45.0 244.0,54.6 245.0,54.7 246.0,54.2 247.0,54.0 248.0,54.3 249.0,54.0 250.0,54.3 251.0,54.3 252.0,53.9 253.0,54.2 254.0,53.7 255.0,54.5 256.0,54.7 257.0,54.5 258.0,54.0 259.0,54.1 260.0,53.9 261.0,54.3 262.0,53.5 263.0,54.0 264.0,54.1 265.0,53.9 266.0,54.1 267.0,53.6 268.0,54.2 269.0,54.0 270.0,54.6 271.0,54.3 272.0,53.5 273.0,53.9 274.0,54.1 275.0,53.8 276.0,54.1 277.0,54.2 278.0,53.6 279.0,54.0 280.0,53.7 281.0,54.2 282.0,53.5 283.0,53.7 284.0,54.2 285.0,53.8 286.0,54.1 287.0,54.3 288.0,54.1 289.0,53.8 290.0,53.8 291.0,53.6 292.0,54.1 293.0,54.0 294.0,54.1 295.0,53.4 296.0,54.1 297.0,53.8 298.0,54.0 299.0,54.1 300.0,53.9 301.0,54.3 302.0,53.9 303.0,53.8 304.0,54.0 305.0,53.6 306.0,54.5 307.0,54.3 308.0,54.2 309.0,54.4 310.0,54.0 311.0,53.9" fill="none" stroke="#1c1c1c" stroke-width="1.0" stroke-linejoin="round"/><path d="M37.0,127.1 38.0,126.5 39.0,126.7 40.0,127.1 41.0,126.6 42.0,126.3 43.1,126.7 44.1,126.1 45.1,126.7 46.1,126.3 47.1,126.7 48.1,127.2 49.1,126.9 50.1,126.7 51.1,126.4 52.1,126.3 53.1,126.4 54.1,126.5 55.2,126.8 56.2,126.6 57.2,126.7 58.2,126.9 59.2,126.1 60.2,126.2 61.2,126.5 62.2,126.1 63.2,126.1 64.2,126.6 65.2,126.5 66.2,126.6 67.3,126.4 68.3,126.6 69.3,126.7 70.3,126.5 71.3,126.8 72.3,126.6 73.3,126.3 74.3,127.0 75.3,126.6 76.3,126.6 77.3,126.5 78.4,126.8 79.4,126.8 80.4,126.9 81.4,126.7 82.4,126.5 83.4,126.4 84.4,127.1 85.4,127.0 86.4,126.7 87.4,126.8 88.4,126.6 89.4,127.2 90.5,127.1 91.5,126.3 92.5,126.8 93.5,126.3 94.5,126.8 95.5,126.7 96.1,120.4 97.4,120.7 98.7,121.4 100.0,122.5 101.0,122.0 102.0,122.9 103.0,123.6 104.0,123.2 105.0,123.4 106.0,123.7 107.0,123.7 108.0,124.0 109.0,123.9 110.0,123.3 111.0,123.6 112.0,123.7 113.0,123.5 114.0,124.1 115.0,124.1 116.0,124.0 117.0,123.4 118.0,124.3 119.0,124.4 120.0,124.2 121.0,124.4 122.0,124.0 123.0,124.4 124.0,124.9 125.0,125.7 126.2,127.0 127.0,132.7 128.5,130.0 129.4,118.7 130.3,136.2 131.4,128.1 133.1,125.2 134.2,125.1 135.4,125.2 136.6,125.1 137.7,125.3 138.8,125.1 140.0,124.4 141.0,124.4 142.0,124.3 143.0,124.3 144.0,123.8 145.0,123.4 146.0,123.4 147.1,123.4 148.1,122.7 149.2,123.2 150.3,122.1 151.3,121.8 152.4,121.6 153.5,121.2 154.5,120.7 155.6,119.9 156.6,118.3 157.6,117.1 158.6,115.0 159.6,113.7 160.8,112.7 162.0,110.8 162.5,107.3 162.9,129.6 163.9,129.7 164.9,129.7 165.9,130.0 166.9,129.6 167.9,129.8 168.9,129.5 170.0,129.6 171.0,129.4 172.0,129.6 173.0,129.5 174.0,129.6 175.0,129.6 176.0,129.9 177.1,129.2 178.1,129.4 179.1,128.6 180.2,128.4 181.2,128.4 182.2,129.0 183.2,128.4 184.3,128.2 185.3,128.5 185.4,109.6 186.7,111.8 188.0,114.4 189.3,116.3 190.5,117.4 191.7,118.8 192.9,119.6 194.1,121.2 195.2,121.6 196.2,122.6 197.3,123.4 198.4,123.9 199.4,123.5 200.5,124.4 201.6,124.4 202.6,124.5 203.7,123.9 204.8,124.0 205.9,123.8 206.9,123.5 208.0,124.5 209.0,125.0 210.0,125.0 211.0,125.4 212.0,125.5 213.0,125.5 214.0,125.6 215.0,125.7 216.7,131.7 218.3,136.0 219.4,130.7 220.7,124.7 221.7,125.0 222.8,125.0 223.8,124.7 224.9,125.0 225.9,125.2 227.0,125.7 228.0,125.6 229.1,125.5 230.1,126.1 231.2,125.6 232.3,125.8 233.3,125.5 234.4,125.0 235.5,125.4 236.5,125.4 237.6,125.6 238.7,125.4 239.7,125.6 240.8,125.4 241.9,124.4 242.9,124.3 244.0,122.7 245.0,122.6 246.0,121.2 247.0,120.4 248.0,120.0 249.2,123.3 250.4,126.3 252.0,127.2 253.0,127.4 254.0,127.3 255.0,127.8 256.0,127.4 257.0,127.6 258.0,127.2 259.0,127.0 260.0,123.9 261.6,127.4 262.6,126.7 263.6,127.2 264.7,126.7 265.7,126.7 266.7,127.1 267.7,126.9 268.7,126.7 269.7,127.3 270.8,126.7 271.8,127.0 272.8,126.9 273.8,127.0 274.8,127.2 275.9,127.1 276.9,126.9 277.9,126.7 278.9,127.0 279.9,126.4 280.9,127.2 282.0,126.3 283.0,126.3 284.0,126.8 284.5,127.9 285.6,128.4 286.7,127.9 287.8,127.5 288.9,127.6 290.0,126.8 291.0,126.8 292.0,126.8 293.0,127.0 294.0,127.0 295.0,126.8 296.0,126.7 297.0,127.0 298.0,126.7 299.0,127.2 300.0,127.2 301.0,127.2 302.0,126.6 303.0,126.7 304.0,126.9 305.0,127.0 306.0,126.8 307.0,127.2 308.0,127.5 309.0,127.0 310.0,126.9 311.0,126.9" fill="none" stroke="#1c1c1c" stroke-width="1.0" stroke-linejoin="round"/><path d="M37.0,181.3 38.0,181.4 39.0,181.8 40.0,181.4 41.0,181.2 42.0,181.1 43.0,181.1 44.0,181.3 45.0,181.0 46.0,181.2 47.0,181.2 48.0,182.0 49.0,181.8 50.0,181.1 51.0,181.7 52.0,181.2 53.0,181.5 54.0,182.0 55.0,181.7 56.0,181.6 57.0,181.4 58.0,181.2 59.0,181.4 60.0,180.9 61.0,181.0 62.0,181.1 63.0,180.9 64.0,181.4 65.0,181.8 66.0,181.7 67.0,181.4 68.0,181.5 69.0,181.4 70.0,181.3 71.0,181.6 72.0,181.4 73.0,181.6 74.0,181.7 75.0,181.5 76.0,181.8 77.0,181.5 78.3,176.9 79.3,176.5 80.4,176.6 81.4,177.1 82.5,177.3 83.5,177.3 84.7,177.9 85.9,178.5 87.1,178.7 88.3,179.0 89.4,179.2 90.4,179.1 91.5,179.1 92.5,178.7 93.6,179.1 94.7,179.6 95.7,179.6 96.8,179.3 97.8,179.0 98.9,179.3 99.9,179.3 101.0,179.3 102.0,179.4 103.0,179.8 104.0,180.1 105.0,179.5 106.0,179.8 107.0,180.0 108.0,179.9 109.0,179.7 110.0,180.0 111.0,179.4 112.0,179.9 113.0,179.6 114.0,180.1 115.0,180.3 116.0,179.9 117.0,179.6 118.0,180.1 119.0,180.3 120.0,180.5 121.1,180.5 122.2,180.6 123.3,181.1 124.4,181.1 126.1,181.8 127.2,186.7 128.3,190.5 129.4,180.5 130.5,197.1 131.8,182.2 133.1,180.0 134.2,180.0 135.4,179.5 136.6,179.7 137.7,179.2 138.8,179.8 140.0,178.9 141.0,178.6 142.0,178.9 143.0,178.9 144.0,178.4 145.0,178.7 146.0,178.7 147.0,178.8 148.1,178.5 149.1,178.6 150.2,178.3 151.2,178.4 152.2,178.5 153.3,178.1 154.3,177.8 155.4,178.3 156.4,178.0 157.6,176.0 158.8,174.1 160.4,176.4 161.4,176.2 162.5,175.9 163.5,175.7 164.6,175.6 165.6,175.1 166.7,175.4 167.7,174.7 168.8,170.6 170.0,166.7 171.1,168.1 172.2,169.2 173.3,170.4 174.4,171.1 175.4,171.1 176.5,172.0 177.9,168.2 179.4,165.5 180.7,169.7 182.0,174.3 183.1,174.7 184.2,175.5 185.3,175.9 186.4,175.5 187.4,175.7 188.5,174.8 189.5,175.2 190.5,175.6 191.5,176.3 192.5,176.9 193.7,177.7 194.9,178.3 196.1,178.8 197.3,180.1 198.4,180.1 199.4,179.3 200.5,179.8 201.6,180.0 202.6,180.2 203.7,179.9 204.8,180.7 205.9,180.6 206.9,180.0 208.0,180.5 209.0,181.5 210.0,181.2 211.1,180.9 212.1,180.8 213.1,180.9 214.1,180.9 215.2,181.2 216.2,180.7 217.2,180.9 218.5,187.5 219.6,193.6 220.7,186.3 222.4,181.1 223.5,180.7 224.6,180.2 225.8,180.7 226.9,180.5 228.0,180.5 229.0,180.4 230.0,180.7 231.0,180.5 232.0,180.4 233.0,179.9 234.0,180.2 235.0,180.2 236.0,180.4 237.0,180.1 238.0,180.5 239.0,180.3 240.0,180.0 241.0,179.8 242.0,180.0 243.0,180.6 244.0,180.1 245.0,180.3 246.1,179.8 247.1,179.9 248.2,179.8 249.2,179.8 250.2,179.9 251.3,179.2 252.3,179.7 253.4,179.2 254.4,179.3 255.5,179.6 256.6,179.7 257.6,179.2 258.6,178.9 259.7,179.1 260.9,178.4 262.1,178.6 263.3,178.4 264.3,177.8 265.3,178.1 266.3,178.1 267.3,178.1 268.5,179.5 269.7,182.0 271.3,182.2 272.3,182.0 273.3,182.3 274.4,181.8 275.4,182.7 276.4,182.5 277.4,182.1 278.4,182.4 279.4,181.9 280.5,182.2 281.5,182.1 282.5,182.1 283.5,181.8 284.5,182.2 285.6,182.3 286.6,182.5 287.6,182.7 288.6,182.2 289.6,182.5 290.6,182.0 291.7,181.9 292.7,181.8 293.7,182.0 294.7,182.2 295.7,182.1 296.7,182.4 297.8,182.0 298.8,181.9 299.8,182.0 300.8,182.2 301.8,182.1 302.9,182.1 303.9,181.4 304.9,182.1 305.9,182.5 306.9,182.3 307.9,181.9 309.0,182.0 310.0,181.8 311.0,181.9" fill="none" stroke="#1c1c1c" stroke-width="1.0" stroke-linejoin="round"/><path d="M37.0,236.2 38.1,236.6 39.1,236.7 40.2,236.7 41.3,236.6 42.3,236.6 43.4,236.3 44.5,236.3 45.5,236.4 46.6,236.5 47.7,236.5 48.7,236.7 49.8,235.9 50.9,236.1 51.9,236.1 53.0,236.3 54.0,235.9 55.0,236.0 56.0,235.9 57.0,236.7 58.0,236.9 59.0,236.6 60.0,236.4 61.0,236.9 62.2,237.2 63.4,237.5 64.6,237.8 65.8,238.1 67.4,236.8 69.0,232.7 70.2,232.9 71.5,233.0 72.5,233.6 73.5,233.2 74.5,234.1 75.5,234.3 76.6,234.4 77.6,234.8 78.7,234.5 79.7,234.7 80.7,234.5 81.7,234.2 82.7,234.5 83.7,234.8 84.7,235.3 85.8,235.3 86.8,234.8 87.8,234.6 88.8,234.4 89.8,235.2 90.8,234.6 91.8,234.3 92.8,234.3 93.8,234.4 94.8,235.1 95.8,234.7 96.8,235.2 97.8,234.5 98.8,235.3 99.9,234.6 100.9,234.3 101.9,235.2 102.9,235.0 103.9,235.5 104.9,235.0 105.9,234.9 106.9,235.5 107.9,235.6 108.9,235.6 109.9,235.3 110.9,235.0 111.9,235.5 112.9,235.6 114.0,235.4 115.0,235.8 116.0,235.2 117.0,235.8 118.0,235.7 119.0,235.3 120.0,235.4 121.0,236.0 122.0,236.1 123.0,235.6 124.1,236.1 125.1,236.3 126.1,235.9 127.9,240.7 129.2,231.1 130.0,249.5 131.0,239.6 132.7,235.2 133.7,234.7 134.8,234.7 135.8,234.8 136.9,234.7 137.9,234.9 139.0,234.4 140.0,234.6 141.0,234.0 142.0,234.1 143.0,233.7 144.0,233.2 145.0,232.8 146.0,232.9 147.1,232.7 148.1,232.4 149.2,232.3 150.3,231.6 151.3,231.0 152.4,231.5 153.9,230.3 155.3,229.5 156.7,229.9 158.0,230.3 159.1,231.7 160.1,232.8 161.2,233.7 162.3,234.1 163.4,234.9 164.5,235.9 165.5,235.2 166.5,235.3 167.5,235.0 168.5,234.8 169.5,235.0 170.5,235.0 171.5,235.2 172.5,236.0 173.6,238.4 174.6,236.7 175.7,234.9 176.8,235.1 177.9,235.0 179.1,234.4 180.2,235.2 181.3,235.4 182.3,235.0 183.3,234.3 184.3,233.7 185.3,233.9 186.4,233.1 187.5,232.2 188.7,231.4 189.8,230.0 190.9,228.9 192.1,230.3 193.3,231.4 194.5,231.8 195.7,233.1 196.8,232.5 197.8,231.3 198.9,230.7 200.0,231.7 201.0,232.6 202.1,233.4 203.3,233.6 204.5,234.1 205.6,234.2 206.8,233.8 208.0,233.9 209.0,234.9 210.0,235.0 211.0,234.8 212.0,235.3 213.0,235.7 214.0,235.8 215.0,235.6 216.7,238.9 218.3,245.5 219.8,238.1 221.1,234.2 222.0,235.5 223.0,234.8 224.0,234.5 225.0,234.3 226.0,234.5 227.0,234.1 228.0,234.0 229.0,233.9 230.0,234.1 231.0,233.8 232.1,233.6 233.1,234.4 234.1,233.9 235.1,233.7 236.1,234.2 237.1,234.3 238.1,233.9 239.1,234.4 240.2,234.1 241.2,234.2 242.2,234.1 243.2,234.4 244.2,235.1 245.2,234.9 246.2,234.4 247.2,234.4 248.3,234.3 249.3,234.7 250.3,234.5 251.3,234.9 252.3,234.8 253.3,234.8 254.3,235.0 255.4,234.7 256.4,234.7 257.4,234.9 258.4,234.7 259.4,234.5 260.4,234.5 261.4,234.9 262.4,235.0 263.5,234.6 264.5,235.0 265.5,235.1 266.5,234.5 267.7,234.7 268.9,234.4 270.1,234.2 271.3,234.3 272.5,233.0 273.6,232.7 274.8,232.7 276.0,232.6 277.2,232.9 278.5,233.3 280.1,237.1 281.3,236.3 282.5,236.1 283.5,236.2 284.5,235.8 285.6,235.9 286.6,236.1 287.6,236.2 288.6,236.5 289.6,236.5 290.6,236.3 291.7,235.5 292.7,236.1 293.7,236.1 294.7,235.9 295.7,236.3 296.8,235.8 297.8,235.8 298.8,236.2 299.8,236.5 300.8,236.3 301.8,235.8 302.9,235.9 303.9,236.0 304.9,235.6 305.9,236.1 306.9,236.1 307.9,236.0 309.0,236.3 310.0,236.0 311.0,236.0" fill="none" stroke="#1c1c1c" stroke-width="1.0" stroke-linejoin="round"/><path d="M37.0,291.3 38.0,291.0 39.0,291.9 40.0,291.5 41.0,291.9 42.0,291.4 43.0,291.3 44.0,292.1 45.0,291.6 46.0,292.3 47.0,292.4 48.0,292.7 49.0,292.2 50.0,292.3 51.0,292.1 52.0,293.0 53.0,293.0 54.1,293.0 55.1,292.9 56.2,292.9 57.3,293.5 58.3,293.2 59.4,293.3 60.6,292.5 61.8,292.2 63.0,290.1 64.2,288.9 65.3,289.1 66.3,288.9 67.4,289.7 68.4,289.3 69.5,289.6 70.5,289.6 71.5,289.7 72.5,290.2 73.6,289.8 74.6,289.9 75.6,290.5 76.6,290.4 77.7,290.9 78.7,290.2 79.7,290.9 80.7,290.3 81.7,291.0 82.8,290.8 83.8,290.6 84.8,290.9 85.8,290.8 86.8,290.6 87.8,290.4 88.8,290.7 89.8,291.5 90.9,291.3 91.9,290.9 92.9,290.4 93.9,290.7 94.9,291.3 95.9,290.6 96.9,290.9 98.0,290.6 99.0,291.3 100.0,290.4 101.0,291.0 102.0,290.9 103.0,290.9 104.0,290.9 105.0,291.5 106.0,291.2 107.0,291.1 108.0,291.4 109.0,291.6 110.0,290.9 111.0,291.4 112.0,291.1 113.0,291.1 114.0,291.6 115.0,291.6 116.0,291.2 117.0,291.1 118.0,291.2 119.0,291.8 120.0,291.8 121.0,291.6 122.0,291.3 123.0,291.6 124.1,291.8 125.1,291.7 126.1,291.3 127.2,293.9 128.3,296.8 129.6,285.0 130.5,301.6 131.8,292.0 133.1,290.6 134.2,290.6 135.3,289.8 136.4,289.8 137.5,289.0 138.8,289.3 140.0,288.1 141.0,288.7 142.0,289.1 143.0,288.9 144.0,288.5 145.0,289.4 146.0,289.2 147.0,289.3 148.0,288.7 149.0,288.7 150.0,288.7 150.8,284.3 152.4,288.7 153.6,289.0 154.8,289.6 156.0,290.4 157.2,290.3 158.3,290.5 159.4,290.7 160.4,291.0 161.5,290.8 162.6,291.5 163.7,291.9 164.7,292.1 165.8,291.8 166.9,292.2 168.0,291.7 169.0,291.6 170.1,290.9 171.2,291.5 172.2,291.4 173.3,291.0 174.6,294.6 176.5,291.3 177.5,291.1 178.5,291.0 179.5,290.7 180.5,291.6 181.5,291.1 182.5,291.2 183.5,291.2 184.5,291.5 185.6,291.7 186.6,290.7 187.7,290.3 188.8,290.3 189.8,289.4 190.9,288.8 192.0,288.8 193.0,288.3 194.1,287.6 195.2,287.2 196.2,286.2 197.3,286.3 198.5,286.8 199.7,286.6 200.9,287.1 202.1,287.9 203.3,288.2 204.5,288.2 205.6,288.2 206.8,288.4 208.0,288.6 209.1,289.4 210.3,289.8 211.4,289.4 212.5,290.0 213.6,290.3 214.8,289.9 215.9,290.2 217.0,294.0 218.3,300.3 219.8,293.0 221.1,289.4 222.4,291.1 223.5,290.9 224.6,290.3 225.8,290.2 226.9,290.4 228.0,290.0 229.0,290.3 230.0,291.2 231.0,291.0 232.1,290.6 233.1,290.4 234.1,290.5 235.1,290.6 236.2,291.1 237.2,290.9 238.2,291.0 239.2,291.0 240.3,291.0 241.3,290.2 242.3,290.9 243.3,291.4 244.4,291.3 245.4,290.6 246.4,290.5 247.4,290.7 248.5,290.5 249.5,290.7 250.5,290.3 251.6,290.6 252.6,290.6 253.6,290.1 254.6,290.4 255.7,291.3 256.7,291.2 257.7,291.3 258.7,290.8 259.8,290.9 260.8,290.9 261.8,290.8 262.8,290.0 263.9,290.4 264.9,290.2 266.0,290.5 267.0,290.1 268.1,290.2 269.2,290.6 270.2,290.4 271.3,289.7 272.3,289.5 273.3,289.2 274.3,289.6 275.3,289.3 276.3,288.9 277.3,288.8 278.3,288.1 279.3,288.2 280.5,288.9 281.7,288.8 282.9,288.7 284.1,289.4 285.3,291.3 286.5,292.7 287.5,292.7 288.5,292.6 289.6,292.6 290.6,292.5 291.6,292.3 292.6,292.2 293.6,292.1 294.7,292.4 295.7,292.7 296.7,292.7 297.7,292.6 298.8,292.6 299.8,292.3 300.8,292.7 301.8,292.3 302.8,292.3 303.9,292.3 304.9,292.3 305.9,292.3 306.9,292.4 307.9,292.4 309.0,292.5 310.0,292.4 311.0,292.2" fill="none" stroke="#1c1c1c" stroke-width="1.0" stroke-linejoin="round"/><path d="M376.5,53.7 377.5,53.3 378.5,53.5 379.5,53.7 380.5,53.1 381.6,53.4 382.6,53.5 383.6,53.5 384.6,54.0 385.6,53.3 386.6,53.5 387.6,52.9 388.6,52.8 389.6,53.4 390.6,53.1 391.7,53.1 392.7,53.6 393.7,53.6 394.7,53.7 395.7,52.9 396.7,53.1 397.7,54.0 398.7,53.9 399.7,53.4 400.8,53.5 401.8,53.3 402.8,53.5 403.8,53.4 404.8,53.7 405.8,53.6 406.8,53.2 407.8,53.3 408.8,53.3 409.9,53.7 410.9,53.7 411.9,53.8 412.9,53.6 413.9,53.8 414.9,53.3 415.9,54.0 416.9,53.1 417.9,53.6 418.9,53.7 420.0,53.6 421.0,54.0 422.0,53.5 423.0,53.1 424.0,53.4 425.3,53.5 426.6,53.3 427.9,53.1 429.1,53.6 430.3,54.0 431.5,54.4 432.6,53.7 433.7,53.6 434.7,53.4 435.8,53.0 436.9,53.0 438.7,50.7 439.3,36.3 440.3,37.3 441.3,38.0 442.3,38.9 443.4,40.1 444.5,41.6 445.6,42.6 446.7,44.1 447.8,45.6 449.0,45.7 450.2,46.8 451.4,47.0 452.5,47.8 453.6,48.1 454.6,48.4 455.7,48.0 456.8,48.7 458.6,50.8 460.4,54.3" fill="none" stroke="#1c1c1c" stroke-width="1.0" stroke-linejoin="round"/><path d="M473.0,50.3 474.2,49.0 475.4,48.1 477.2,48.6 478.2,48.0 479.3,47.2 480.4,46.5 481.4,46.1 482.4,44.9 483.5,44.2 484.6,43.0 485.7,41.5 486.7,40.0 487.8,38.6 488.9,37.0 490.1,36.0 491.3,34.4 492.5,32.9 493.6,30.8 494.8,29.1 496.0,27.5 497.1,25.9 498.3,52.6 499.3,53.1 500.3,53.9 501.4,54.6 502.4,54.8 503.4,55.2 504.5,55.7 505.6,56.5 506.8,56.4 507.9,57.1 509.0,56.8 510.1,55.5 511.1,54.8 512.2,54.7 513.3,53.9 514.4,53.9 515.6,53.6 516.8,54.2 517.9,54.4 519.1,55.5 520.3,56.6 521.5,57.3 522.7,55.6 523.9,54.0 525.1,53.0 526.5,52.8 527.8,52.5 528.4,27.0 529.4,27.6 530.4,28.5 531.4,29.8 532.8,33.3 534.1,37.0 535.3,39.4 536.6,41.0 537.8,42.4 539.6,42.3 540.8,43.9 542.0,45.0 543.2,46.5 544.4,46.4 545.6,47.1 546.8,48.4 547.9,48.6 549.0,49.0 550.0,48.6 551.1,49.0 552.2,49.4" fill="none" stroke="#1c1c1c" stroke-width="1.0" stroke-linejoin="round"/><path d="M577.0,46.2 578.1,44.7 579.2,43.6 580.3,42.3 581.5,42.1 582.7,41.2 583.9,40.4 584.8,57.9 586.1,51.3 587.3,50.1 588.5,49.4 590.3,53.8 591.6,52.9 593.0,52.2 594.0,52.0 595.0,52.3 596.0,52.6 597.0,52.4 598.0,52.6 599.1,52.3 600.1,52.2 601.1,52.7 602.1,52.2 603.1,52.5 604.1,52.3 605.1,52.3 606.1,52.6 607.1,52.6 608.1,53.2 609.1,52.8 610.1,52.4 611.2,52.4 612.2,52.4 613.2,52.4 614.2,53.2 615.2,52.9 616.2,53.1 617.2,52.8 618.2,52.8 619.2,52.2 620.2,52.1 621.2,52.8 622.3,53.0 623.3,52.7 624.3,53.1 625.3,52.9 626.3,52.3 627.3,52.9 628.3,53.5 629.3,53.0 630.3,53.3 631.3,52.8 632.3,52.8 633.4,52.8 634.4,52.6 635.4,53.0 636.4,53.1 637.4,52.6 638.4,53.2 639.4,52.9 640.4,52.7 641.4,52.7 642.4,52.6 643.4,53.3 644.4,52.8 645.5,53.2 646.5,52.9 647.5,53.0 648.5,52.7 649.5,52.7 650.5,53.0" fill="none" stroke="#1c1c1c" stroke-width="1.0" stroke-linejoin="round"/><path d="M376.5,126.4 377.5,126.5 378.5,126.9 379.5,126.2 380.5,126.1 381.5,126.0 382.5,126.2 383.5,126.3 384.5,126.0 385.5,126.3 386.5,125.8 387.5,125.5 388.6,125.9 389.6,125.4 390.6,125.5 391.6,126.2 392.6,125.8 393.6,126.0 394.6,126.1 395.6,125.8 396.6,125.3 397.6,125.7 398.6,126.0 399.6,125.8 400.6,126.1 401.6,125.4 402.6,126.0 403.6,125.7 404.7,125.6 405.7,125.8 406.7,125.4 407.7,125.9 408.7,125.6 409.7,126.6 410.8,126.6 411.8,126.4 412.8,126.3 413.8,126.6 414.9,126.6 416.0,127.4 417.1,126.8 418.1,127.3 419.2,127.7 420.3,127.7 421.4,128.2 422.5,127.8 423.6,127.7 424.7,127.4 425.8,126.9 426.8,126.8 427.9,126.2 429.0,126.1 430.8,126.2 430.8,109.3 432.0,109.9 433.2,111.4 434.4,112.2 435.6,113.6 436.7,114.6 437.8,115.6 438.9,116.0 440.0,116.6 441.1,117.5 442.2,118.1 443.3,118.8 444.4,120.1 445.5,120.2 446.6,119.9 447.7,120.3 448.8,119.9 449.9,119.5 451.0,120.5 452.1,120.9 453.2,121.9 454.3,122.1 455.3,122.9 456.4,123.6 457.5,125.6 458.6,128.0" fill="none" stroke="#1c1c1c" stroke-width="1.0" stroke-linejoin="round"/><path d="M472.3,124.4 473.4,124.2 474.5,123.9 475.6,123.1 476.8,123.3 477.9,122.3 479.0,121.9 480.1,121.2 481.2,120.6 482.4,120.6 483.5,119.9 484.6,119.5 485.7,118.1 486.9,117.0 488.0,116.0 489.2,115.0 490.3,114.0 491.5,112.8 492.6,111.1 493.8,109.8 495.0,108.5 496.4,105.8 497.9,104.0 499.3,101.9 500.7,100.1 501.9,96.3 503.2,92.9 504.4,97.0 505.5,100.7 506.9,104.7 508.3,109.8 510.2,111.8 512.1,120.7 514.0,119.7 515.9,123.9 517.8,122.7 519.7,102.6 521.6,86.6 523.0,87.2 524.4,88.5 525.3,93.3 526.8,95.7 528.2,99.1 530.1,111.3 532.0,111.6 533.3,113.1 534.5,114.1 535.8,115.4 537.0,116.5 538.3,117.0 539.5,117.5 540.6,118.8 541.8,119.3 542.9,120.4 544.1,120.8 545.2,121.3 546.3,122.0 547.5,122.6 548.6,123.0 549.8,122.9 550.9,123.6" fill="none" stroke="#1c1c1c" stroke-width="1.0" stroke-linejoin="round"/><path d="M564.5,125.5 565.4,123.4 566.5,122.9 567.6,122.7 568.7,122.7 569.8,121.9 570.9,122.3 572.0,121.7 573.1,122.0 574.2,121.7 575.3,121.4 576.3,121.7 577.4,121.9 578.5,121.4 579.6,121.0 580.9,120.1 582.1,119.2 583.4,118.8 584.7,117.3 585.9,115.5 587.2,114.2 588.4,113.7 589.5,113.3 590.7,112.5 591.9,111.3 592.9,128.8 594.2,128.2 595.4,128.3 596.7,128.0 597.8,128.3 598.9,128.0 600.1,127.8 601.2,128.0 602.3,127.2 603.4,127.4 604.6,127.2 605.7,127.7 606.9,127.5 608.0,127.4 609.0,126.8 610.0,127.0 611.0,126.9 612.0,126.7 613.1,127.3 614.1,127.5 615.1,126.8 616.1,126.9 617.1,127.0 618.1,126.7 619.1,126.4 620.1,126.5 621.2,126.5 622.2,127.1 623.2,127.1 624.2,126.7 625.2,126.7 626.2,126.7 627.2,126.9 628.2,127.0 629.2,126.8 630.3,126.7 631.3,127.6 632.3,127.3 633.3,126.5 634.3,127.1 635.3,127.6 636.3,127.0 637.3,126.4 638.4,127.0 639.4,127.1 640.4,126.8 641.4,127.0 642.4,126.5 643.4,127.3 644.4,127.2 645.4,127.3 646.5,127.6 647.5,127.1 648.5,126.6 649.5,126.6 650.5,127.0" fill="none" stroke="#1c1c1c" stroke-width="1.0" stroke-linejoin="round"/><path d="M376.5,181.5 377.5,181.5 378.5,182.0 379.5,181.9 380.5,181.4 381.5,181.3 382.5,181.8 383.5,182.2 384.6,182.2 385.6,181.4 386.6,181.7 387.6,181.6 388.6,181.5 389.6,181.2 390.6,181.1 391.6,181.9 392.6,181.7 393.6,181.7 394.6,181.7 395.6,181.3 396.6,181.8 397.6,181.6 398.6,181.5 399.7,182.0 400.7,181.9 401.7,181.9 402.7,181.7 403.7,181.9 404.7,182.0 405.7,181.5 406.7,181.4 408.5,182.2 409.7,182.7 410.8,183.1 412.0,182.8 413.4,176.7 414.6,172.1 415.9,173.2 417.2,173.0 418.2,173.7 419.3,174.9 420.3,174.7 421.4,175.1 422.4,175.7 423.4,175.7 424.4,176.6 425.4,176.4 426.4,177.5 427.4,177.9 428.4,178.2 429.4,178.4 430.4,178.4 431.5,178.6 432.5,178.5 433.6,178.5 434.6,178.4 435.7,178.4 436.8,178.9 437.8,179.2 438.8,179.1 439.9,178.5 440.9,178.7 442.0,179.0 443.0,179.3 444.1,179.3 445.1,179.3 446.2,179.1 447.2,179.5 448.3,179.9 449.3,180.3 450.4,180.2 451.5,180.6 452.5,181.0 453.6,181.3 454.6,181.2 455.7,181.6" fill="none" stroke="#1c1c1c" stroke-width="1.0" stroke-linejoin="round"/><path d="M474.1,179.3 475.3,178.5 476.4,178.8 477.6,178.4 479.2,179.1 480.4,178.9 481.6,178.5 482.8,177.4 484.0,177.0 485.1,176.1 486.2,175.4 487.4,175.0 488.5,173.4 489.6,172.8 490.6,172.7 491.6,172.0 492.7,171.1 493.7,170.9 494.8,170.0 495.8,169.6 496.9,169.0 497.9,168.5 498.9,168.0 500.0,167.3 501.0,162.2 502.0,157.4 503.1,158.7 504.2,159.3 505.4,159.8 506.5,161.3 507.7,161.6 508.9,162.5 510.1,163.7 511.3,164.1 512.5,166.0 513.7,167.7 515.3,164.2 516.3,163.2 517.3,161.8 518.3,161.2 519.3,160.4 520.5,159.2 521.7,158.5 522.9,157.1 524.1,156.2 525.3,162.4 526.5,168.1 527.7,168.7 528.9,168.9 530.1,169.3 531.3,170.8 532.5,171.3 533.7,171.8 534.9,173.2 536.1,173.5 537.3,174.0 538.5,175.2 539.6,175.3 540.7,176.4 541.9,176.9 543.0,178.2 544.1,178.4 545.3,178.2 546.5,178.5 547.7,178.3 548.9,178.7 550.0,178.2 551.1,178.2 552.2,179.0 553.3,178.7" fill="none" stroke="#1c1c1c" stroke-width="1.0" stroke-linejoin="round"/><path d="M565.9,180.6 567.0,178.8 568.0,179.1 569.0,178.8 570.0,178.9 571.0,178.7 572.0,179.1 573.0,178.9 574.0,178.0 575.0,178.5 576.0,178.3 577.0,178.5 578.0,178.3 579.0,178.2 580.0,177.7 581.0,178.0 582.0,178.5 583.0,178.8 584.0,178.7 585.0,178.1 586.0,178.5 587.0,178.0 588.0,178.8 589.0,179.3 590.0,178.7 591.0,179.4 592.0,179.3 593.0,178.8 594.0,178.4 595.0,178.7 596.7,177.9 597.8,177.3 598.8,176.8 599.9,176.4 600.9,175.9 602.0,175.9 603.0,175.0 604.1,175.0 605.2,174.5 606.2,174.6 607.3,174.0 608.4,173.4 609.5,173.0 610.8,184.8 612.7,183.5 613.8,183.9 614.8,183.9 615.9,183.9 616.9,183.0 618.0,183.0 619.0,182.4 620.0,182.5 621.0,182.6 622.1,182.6 623.1,182.2" fill="none" stroke="#1c1c1c" stroke-width="1.0" stroke-linejoin="round"/><path d="M645.0,181.6 646.0,181.7 647.0,181.9 648.0,181.5 649.0,181.1 650.0,181.3" fill="none" stroke="#1c1c1c" stroke-width="1.0" stroke-linejoin="round"/><path d="M376.5,237.4 377.5,237.2 378.6,237.7 379.6,237.1 380.6,237.4 381.6,237.2 382.7,237.0 383.7,237.3 384.7,237.2 385.8,237.6 386.8,237.1 387.8,236.6 388.9,236.7 389.9,236.8 390.9,237.0 391.9,237.4 393.0,237.4 394.0,237.3 395.1,237.1 396.1,237.6 397.2,237.9 398.3,238.1 399.3,238.8 400.4,238.8 401.3,238.2 402.9,228.1 404.0,228.5 405.1,229.3 406.3,229.1 407.4,229.3 408.5,229.8 409.5,230.4 410.5,231.4 411.5,231.7 412.5,232.5 413.6,232.6 414.7,232.1 415.8,232.9 416.9,233.0 418.0,233.2 419.0,233.4 420.0,233.4 421.0,233.4 422.0,233.0 423.0,232.8 424.0,233.2 425.0,233.4 426.0,233.5 427.0,233.3 428.0,233.1 429.0,233.6 430.0,233.7 431.0,233.5 432.0,233.5 433.0,233.4 434.0,233.7 435.0,233.5 436.0,233.3 437.0,233.8 438.0,233.8 439.0,234.2 440.0,233.8 441.0,233.7 442.0,233.7 443.0,233.8 444.0,234.0 445.0,233.9 446.0,233.6 447.0,234.4 448.0,234.3 449.0,234.2 450.0,234.2 451.1,234.0 452.2,234.0 453.2,234.0 454.3,234.1 455.4,233.9 456.5,234.5 457.7,236.0 458.9,237.7" fill="none" stroke="#1c1c1c" stroke-width="1.0" stroke-linejoin="round"/><path d="M472.0,234.8 473.6,230.3 474.8,230.0 476.0,229.0 477.2,228.5 478.4,228.1 480.0,229.2 481.2,228.4 482.4,226.6 483.4,226.8 484.4,226.5 485.4,226.9 486.4,226.4 487.2,226.9 488.8,220.8 489.9,222.0 490.9,222.4 492.0,223.2 493.2,224.1 494.4,225.0 495.7,226.0 496.9,227.4 498.0,228.0 499.0,229.0 500.1,229.8 501.2,231.1 502.2,232.4 503.3,233.1 504.5,232.8 505.7,233.5 506.9,233.9 508.1,233.9 509.2,233.9 510.2,234.7 511.3,234.9 512.9,237.8 514.1,235.9 515.3,233.9 516.4,233.7 517.5,233.8 518.7,233.5 519.8,233.7 520.9,233.0 522.1,232.1 523.3,231.3 524.5,230.3 525.7,229.3 526.9,228.4 528.1,226.9 529.3,225.4 530.5,224.5 531.7,223.4 532.9,223.0 534.1,222.3 535.3,221.7 536.5,220.1 537.7,218.1 539.3,225.5 540.3,225.4 541.3,226.8 542.3,227.0 543.3,227.7 544.5,227.2 545.7,227.9 546.9,228.8 548.1,229.0 549.2,229.0 550.2,229.0 551.3,229.3 553.0,231.7" fill="none" stroke="#1c1c1c" stroke-width="1.0" stroke-linejoin="round"/><path d="M564.9,233.1 566.3,233.3 567.8,234.6 568.9,233.8 569.9,233.6 571.0,233.3 572.1,233.6 573.1,233.8 574.2,233.6 575.3,233.9 576.3,234.5 577.4,234.3 578.5,234.4 579.5,234.2 580.6,234.2 581.7,233.9 582.7,234.3 583.8,234.4 584.9,233.9 585.9,233.5 587.0,233.5 588.0,234.2 589.1,233.7 590.1,233.5 591.2,233.9 592.2,234.1 593.3,233.9 594.3,233.3 595.4,233.9 596.4,233.3 597.5,233.6 598.5,233.3 599.5,233.5 600.6,233.4 601.6,233.2 602.7,233.5 603.7,233.6 604.8,233.4 605.8,234.2 606.9,233.9 607.9,233.7 609.0,233.0 610.0,232.7 611.1,232.2 612.2,231.0 613.2,230.7 614.3,230.8 615.4,229.9 616.4,230.1 617.5,229.3 618.6,228.8 619.6,228.0 620.7,227.9 622.3,233.7 623.9,238.0 625.0,237.8 626.0,236.5 627.1,236.6 628.1,236.5 629.1,236.9 630.2,236.6 631.2,237.1 632.2,236.4 633.2,236.6 634.2,236.5 635.2,237.3 636.3,237.1 637.3,236.6 638.3,236.6 639.3,236.9 640.3,236.7 641.3,236.8 642.4,236.6 643.4,236.7 644.4,237.3 645.4,237.3 646.4,237.2 647.4,237.5 648.5,236.7 649.5,237.0 650.5,237.2" fill="none" stroke="#1c1c1c" stroke-width="1.0" stroke-linejoin="round"/><path d="M376.5,291.5 377.6,292.1 378.6,292.1 379.7,291.4 380.7,291.9 381.8,292.0 382.8,291.9 383.9,292.0 384.9,292.1 386.0,292.3 387.1,291.7 388.2,292.3 389.3,292.4 390.4,292.5 391.5,293.0 392.6,293.7 393.7,293.3 394.8,293.9 396.4,290.0 398.0,285.1 399.0,285.0 400.0,284.2 401.0,284.5 402.0,284.2 403.2,283.9 404.4,284.2 405.7,284.6 406.9,285.5 408.0,285.0 409.0,286.1 410.1,286.1 411.2,286.9 412.2,286.5 413.3,286.8 414.4,287.3 415.4,287.1 416.5,287.3 417.6,287.6 418.6,287.7 419.7,288.0 420.8,288.1 421.8,287.3 422.9,287.3 424.0,287.8 425.0,287.8 426.1,287.4 427.1,287.9 428.1,287.8 429.1,288.2 430.1,288.2 431.1,288.1 432.1,289.0 433.1,288.6 434.1,289.2 435.2,288.4 436.2,288.7 437.3,288.6 438.4,288.6 439.4,288.1 440.5,288.4 441.6,288.0 442.6,288.5 443.7,288.5 444.8,288.2 445.8,288.2 446.9,288.3 448.0,288.9 449.0,288.3 450.1,288.1 451.1,288.7 452.1,288.6 453.1,288.5 454.1,288.0 455.1,287.8 456.1,287.9 457.1,287.9 458.1,288.3" fill="none" stroke="#1c1c1c" stroke-width="1.0" stroke-linejoin="round"/><path d="M475.2,285.1 476.4,284.6 477.6,283.5 478.8,282.6 480.0,282.0 481.4,278.5 482.9,275.8 484.2,276.2 485.6,276.7 486.8,277.5 488.0,278.4 489.2,279.4 490.4,280.2 491.6,281.0 492.9,281.6 494.1,282.2 495.3,282.9 496.4,284.4 497.4,284.8 498.5,285.7 499.7,285.9 500.9,285.8 502.1,286.7 503.3,285.9 504.9,288.4 505.9,287.9 506.9,286.5 507.9,286.0 508.9,285.2 510.1,287.1 511.3,288.9 512.5,289.7 513.7,291.2 514.9,289.0 516.1,286.6 517.3,286.0 518.5,286.9 519.7,286.9 520.9,287.4 522.1,286.9 523.3,286.1 524.5,286.2 525.7,285.1 526.9,285.0 528.1,284.1 529.3,282.8 530.5,282.1 531.7,281.6 532.9,280.1 534.1,279.9 535.3,279.3 536.5,278.5 537.7,278.2 538.9,277.2 540.1,276.4 541.2,276.2 542.2,275.8 543.3,275.0 544.4,276.9 545.4,278.5 546.5,280.4 547.7,281.8 548.9,282.3 550.0,283.6 551.0,284.2 552.1,285.4" fill="none" stroke="#1c1c1c" stroke-width="1.0" stroke-linejoin="round"/><path d="M568.1,287.9 569.2,287.7 570.3,287.7 571.4,287.7 572.5,287.8 573.5,288.1 574.6,287.7 575.7,287.9 576.8,287.9 577.9,288.1 579.0,287.5 580.0,287.4 581.0,288.2 582.0,288.1 583.0,288.5 584.0,288.7 585.0,288.8 586.0,288.7 587.0,288.1 588.0,288.6 589.0,289.1 590.0,288.9 591.0,288.2 592.0,288.2 593.0,288.0 594.0,287.4 595.0,287.6 596.2,287.5 597.5,286.8 598.7,286.6 599.9,286.1 601.0,286.1 602.0,286.4 603.1,286.1 604.2,286.0 605.2,286.1 606.3,286.5 607.4,286.5 608.4,285.9 609.5,286.1 610.6,285.6 611.6,285.6 612.7,285.6 613.8,286.3 614.8,286.5 615.9,286.8 617.0,286.9 618.0,287.3 619.1,287.7 620.1,288.0 621.1,288.9 622.1,290.4 623.1,290.9 624.3,288.8 625.5,286.6 626.7,287.5 627.9,287.8 629.5,290.3 630.6,290.6 631.7,290.4 632.9,290.5 634.0,290.9 635.1,291.3 636.1,291.0 637.2,290.4 638.2,291.1 639.2,291.2 640.2,291.4 641.3,291.0 642.3,291.1 643.3,291.3 644.3,291.6 645.4,291.4 646.4,291.5 647.4,291.4 648.4,291.6 649.5,291.0 650.5,291.5" fill="none" stroke="#1c1c1c" stroke-width="1.0" stroke-linejoin="round"/><line x1="104.1" y1="37.8" x2="112.8" y2="37.8" stroke="#3a7dd6" stroke-width="1.6"/><path d="M100.4,37.8 L105.4,35.1 L104.1,37.8 L105.4,40.5 Z" fill="#1d64ca"/><line x1="150" y1="27" x2="159.2" y2="27" stroke="#3a7dd6" stroke-width="1.6"/><path d="M162.9,27 L157.9,24.3 L159.2,27 L157.9,29.7 Z" fill="#1d64ca"/><line x1="189.3" y1="27" x2="198" y2="27" stroke="#3a7dd6" stroke-width="1.6"/><path d="M185.6,27 L190.6,24.3 L189.3,27 L190.6,29.7 Z" fill="#1d64ca"/><line x1="234.4" y1="37.8" x2="243.7" y2="37.8" stroke="#3a7dd6" stroke-width="1.6"/><path d="M247.4,37.8 L242.4,35.1 L243.7,37.8 L242.4,40.5 Z" fill="#1d64ca"/><line x1="96.3" y1="114.5" x2="105.5" y2="114.5" stroke="#3a7dd6" stroke-width="1.6"/><path d="M92.6,114.5 L97.6,111.8 L96.3,114.5 L97.6,117.2 Z" fill="#1d64ca"/><line x1="154" y1="102" x2="163.2" y2="102" stroke="#3a7dd6" stroke-width="1.6"/><path d="M166.9,102 L161.9,99.3 L163.2,102 L161.9,104.7 Z" fill="#1d64ca"/><line x1="184.3" y1="102" x2="193.3" y2="102" stroke="#3a7dd6" stroke-width="1.6"/><path d="M180.6,102 L185.6,99.3 L184.3,102 L185.6,104.7 Z" fill="#1d64ca"/><line x1="240" y1="114.5" x2="249.6" y2="114.5" stroke="#3a7dd6" stroke-width="1.6"/><path d="M253.3,114.5 L248.3,111.8 L249.6,114.5 L248.3,117.2 Z" fill="#1d64ca"/><line x1="79.3" y1="170.6" x2="88" y2="170.6" stroke="#3a7dd6" stroke-width="1.6"/><path d="M75.6,170.6 L80.6,167.9 L79.3,170.6 L80.6,173.3 Z" fill="#1d64ca"/><line x1="164.1" y1="160.5" x2="173.6" y2="160.5" stroke="#3a7dd6" stroke-width="1.6"/><path d="M160.4,160.5 L165.4,157.8 L164.1,160.5 L165.4,163.2 Z" fill="#1d64ca"/><line x1="176" y1="160.5" x2="185.2" y2="160.5" stroke="#3a7dd6" stroke-width="1.6"/><path d="M188.9,160.5 L183.9,157.8 L185.2,160.5 L183.9,163.2 Z" fill="#1d64ca"/><line x1="259.7" y1="170.6" x2="268.7" y2="170.6" stroke="#3a7dd6" stroke-width="1.6"/><path d="M272.4,170.6 L267.4,167.9 L268.7,170.6 L267.4,173.3 Z" fill="#1d64ca"/><line x1="67.5" y1="226.4" x2="76.3" y2="226.4" stroke="#3a7dd6" stroke-width="1.6"/><path d="M63.8,226.4 L68.8,223.7 L67.5,226.4 L68.8,229.1 Z" fill="#1d64ca"/><line x1="152.9" y1="221.2" x2="162" y2="221.2" stroke="#3a7dd6" stroke-width="1.6"/><path d="M149.2,221.2 L154.2,218.5 L152.9,221.2 L154.2,223.9 Z" fill="#1d64ca"/><line x1="184.5" y1="221.2" x2="193.7" y2="221.2" stroke="#3a7dd6" stroke-width="1.6"/><path d="M197.4,221.2 L192.4,218.5 L193.7,221.2 L192.4,223.9 Z" fill="#1d64ca"/><line x1="270" y1="225.6" x2="279.2" y2="225.6" stroke="#3a7dd6" stroke-width="1.6"/><path d="M282.9,225.6 L277.9,222.9 L279.2,225.6 L277.9,228.3 Z" fill="#1d64ca"/><line x1="61.9" y1="279.8" x2="71" y2="279.8" stroke="#3a7dd6" stroke-width="1.6"/><path d="M58.2,279.8 L63.2,277.1 L61.9,279.8 L63.2,282.5 Z" fill="#1d64ca"/><line x1="147.3" y1="277.9" x2="156" y2="277.9" stroke="#3a7dd6" stroke-width="1.6"/><path d="M143.6,277.9 L148.6,275.2 L147.3,277.9 L148.6,280.6 Z" fill="#1d64ca"/><line x1="191" y1="277.9" x2="200.1" y2="277.9" stroke="#3a7dd6" stroke-width="1.6"/><path d="M203.8,277.9 L198.8,275.2 L200.1,277.9 L198.8,280.6 Z" fill="#1d64ca"/><line x1="274.8" y1="279.5" x2="284" y2="279.5" stroke="#3a7dd6" stroke-width="1.6"/><path d="M287.7,279.5 L282.7,276.8 L284,279.5 L282.7,282.2 Z" fill="#1d64ca"/><line x1="437.5" y1="32.6" x2="446.9" y2="32.6" stroke="#3a7dd6" stroke-width="1.6"/><path d="M433.8,32.6 L438.8,29.9 L437.5,32.6 L438.8,35.3 Z" fill="#1d64ca"/><line x1="489.8" y1="22.1" x2="498.7" y2="22.1" stroke="#3a7dd6" stroke-width="1.6"/><path d="M502.4,22.1 L497.4,19.4 L498.7,22.1 L497.4,24.8 Z" fill="#1d64ca"/><line x1="528.8" y1="22.1" x2="537.8" y2="22.1" stroke="#3a7dd6" stroke-width="1.6"/><path d="M525.1,22.1 L530.1,19.4 L528.8,22.1 L530.1,24.8 Z" fill="#1d64ca"/><line x1="576.7" y1="35.7" x2="585.7" y2="35.7" stroke="#3a7dd6" stroke-width="1.6"/><path d="M589.4,35.7 L584.4,33 L585.7,35.7 L584.4,38.4 Z" fill="#1d64ca"/><line x1="429.1" y1="104.4" x2="437.8" y2="104.4" stroke="#3a7dd6" stroke-width="1.6"/><path d="M425.4,104.4 L430.4,101.7 L429.1,104.4 L430.4,107.1 Z" fill="#1d64ca"/><line x1="496" y1="87.6" x2="505" y2="87.6" stroke="#3a7dd6" stroke-width="1.6"/><path d="M508.7,87.6 L503.7,84.9 L505,87.6 L503.7,90.3 Z" fill="#1d64ca"/><line x1="519.7" y1="82.8" x2="528.6" y2="82.8" stroke="#3a7dd6" stroke-width="1.6"/><path d="M516,82.8 L521,80.1 L519.7,82.8 L521,85.5 Z" fill="#1d64ca"/><line x1="585" y1="106.5" x2="594.3" y2="106.5" stroke="#3a7dd6" stroke-width="1.6"/><path d="M598,106.5 L593,103.8 L594.3,106.5 L593,109.2 Z" fill="#1d64ca"/><line x1="411.8" y1="168.8" x2="421" y2="168.8" stroke="#3a7dd6" stroke-width="1.6"/><path d="M408.1,168.8 L413.1,166.1 L411.8,168.8 L413.1,171.5 Z" fill="#1d64ca"/><line x1="498.3" y1="155.1" x2="506.8" y2="155.1" stroke="#3a7dd6" stroke-width="1.6"/><path d="M494.6,155.1 L499.6,152.4 L498.3,155.1 L499.6,157.8 Z" fill="#1d64ca"/><line x1="518" y1="153.3" x2="526.9" y2="153.3" stroke="#3a7dd6" stroke-width="1.6"/><path d="M530.6,153.3 L525.6,150.6 L526.9,153.3 L525.6,156 Z" fill="#1d64ca"/><line x1="605" y1="168.7" x2="613.9" y2="168.7" stroke="#3a7dd6" stroke-width="1.6"/><path d="M617.6,168.7 L612.6,166 L613.9,168.7 L612.6,171.4 Z" fill="#1d64ca"/><line x1="399.7" y1="225.2" x2="408.5" y2="225.2" stroke="#3a7dd6" stroke-width="1.6"/><path d="M396,225.2 L401,222.5 L399.7,225.2 L401,227.9 Z" fill="#1d64ca"/><line x1="484.9" y1="216.3" x2="494" y2="216.3" stroke="#3a7dd6" stroke-width="1.6"/><path d="M481.2,216.3 L486.2,213.6 L484.9,216.3 L486.2,219 Z" fill="#1d64ca"/><line x1="532.1" y1="214.4" x2="540.8" y2="214.4" stroke="#3a7dd6" stroke-width="1.6"/><path d="M544.5,214.4 L539.5,211.7 L540.8,214.4 L539.5,217.1 Z" fill="#1d64ca"/><line x1="615.9" y1="224.4" x2="625.1" y2="224.4" stroke="#3a7dd6" stroke-width="1.6"/><path d="M628.8,224.4 L623.8,221.7 L625.1,224.4 L623.8,227.1 Z" fill="#1d64ca"/><line x1="395.7" y1="279.8" x2="404.9" y2="279.8" stroke="#3a7dd6" stroke-width="1.6"/><path d="M392,279.8 L397,277.1 L395.7,279.8 L397,282.5 Z" fill="#1d64ca"/><line x1="479" y1="271.8" x2="488" y2="271.8" stroke="#3a7dd6" stroke-width="1.6"/><path d="M475.3,271.8 L480.3,269.1 L479,271.8 L480.3,274.5 Z" fill="#1d64ca"/><line x1="537.7" y1="270.5" x2="546.7" y2="270.5" stroke="#3a7dd6" stroke-width="1.6"/><path d="M550.4,270.5 L545.4,267.8 L546.7,270.5 L545.4,273.2 Z" fill="#1d64ca"/><line x1="620.4" y1="279.4" x2="629.9" y2="279.4" stroke="#3a7dd6" stroke-width="1.6"/><path d="M633.6,279.4 L628.6,276.7 L629.9,279.4 L628.6,282.1 Z" fill="#1d64ca"/><rect x="36.4" y="18.2" width="12.5" height="12" fill="#000"/><text x="42.65" y="26.9" font-family="'Liberation Sans', sans-serif" font-weight="bold" font-size="10" fill="#fff" text-anchor="middle">a</text><text x="54" y="27.4" font-family="'Liberation Sans', sans-serif" font-weight="bold" font-size="10.2" fill="#111">t = 34.6 ns</text><rect x="36.4" y="73.5" width="12.5" height="12" fill="#000"/><text x="42.65" y="82.2" font-family="'Liberation Sans', sans-serif" font-weight="bold" font-size="10" fill="#fff" text-anchor="middle">b</text><text x="54" y="82.7" font-family="'Liberation Sans', sans-serif" font-weight="bold" font-size="10.2" fill="#111">t = 43.3 ns</text><rect x="36.4" y="146.6" width="12.5" height="12" fill="#000"/><text x="42.65" y="155.3" font-family="'Liberation Sans', sans-serif" font-weight="bold" font-size="10" fill="#fff" text-anchor="middle">c</text><text x="54" y="155.8" font-family="'Liberation Sans', sans-serif" font-weight="bold" font-size="10.2" fill="#111">t = 69.9 ns</text><rect x="36.4" y="201.5" width="12.5" height="12" fill="#000"/><text x="42.65" y="210.2" font-family="'Liberation Sans', sans-serif" font-weight="bold" font-size="10" fill="#fff" text-anchor="middle">d</text><text x="54" y="210.7" font-family="'Liberation Sans', sans-serif" font-weight="bold" font-size="10.2" fill="#111">t = 86.5 ns</text><rect x="36.4" y="256.6" width="12.5" height="12" fill="#000"/><text x="42.65" y="265.3" font-family="'Liberation Sans', sans-serif" font-weight="bold" font-size="10" fill="#fff" text-anchor="middle">e</text><text x="54" y="265.8" font-family="'Liberation Sans', sans-serif" font-weight="bold" font-size="10.2" fill="#111">t = 94.7 ns</text><text x="32.3" y="20.1" font-family="'Liberation Sans', sans-serif" font-size="9.5" fill="#2e2e2e" stroke="#2e2e2e" stroke-width="0.1" text-anchor="end">1.2</text><text x="32.3" y="38.3" font-family="'Liberation Sans', sans-serif" font-size="9.5" fill="#2e2e2e" stroke="#2e2e2e" stroke-width="0.1" text-anchor="end">1.1</text><text x="32.3" y="56.5" font-family="'Liberation Sans', sans-serif" font-size="9.5" fill="#2e2e2e" stroke="#2e2e2e" stroke-width="0.1" text-anchor="end">1.0</text><text x="32.3" y="93.5" font-family="'Liberation Sans', sans-serif" font-size="9.5" fill="#2e2e2e" stroke="#2e2e2e" stroke-width="0.1" text-anchor="end">1.2</text><text x="32.3" y="111.7" font-family="'Liberation Sans', sans-serif" font-size="9.5" fill="#2e2e2e" stroke="#2e2e2e" stroke-width="0.1" text-anchor="end">1.1</text><text x="32.3" y="129.9" font-family="'Liberation Sans', sans-serif" font-size="9.5" fill="#2e2e2e" stroke="#2e2e2e" stroke-width="0.1" text-anchor="end">1.0</text><text x="32.3" y="166.6" font-family="'Liberation Sans', sans-serif" font-size="9.5" fill="#2e2e2e" stroke="#2e2e2e" stroke-width="0.1" text-anchor="end">1.1</text><text x="32.3" y="184.8" font-family="'Liberation Sans', sans-serif" font-size="9.5" fill="#2e2e2e" stroke="#2e2e2e" stroke-width="0.1" text-anchor="end">1.0</text><text x="32.3" y="221.5" font-family="'Liberation Sans', sans-serif" font-size="9.5" fill="#2e2e2e" stroke="#2e2e2e" stroke-width="0.1" text-anchor="end">1.1</text><text x="32.3" y="239.7" font-family="'Liberation Sans', sans-serif" font-size="9.5" fill="#2e2e2e" stroke="#2e2e2e" stroke-width="0.1" text-anchor="end">1.0</text><text x="32.3" y="276.7" font-family="'Liberation Sans', sans-serif" font-size="9.5" fill="#2e2e2e" stroke="#2e2e2e" stroke-width="0.1" text-anchor="end">1.1</text><text x="32.3" y="294.9" font-family="'Liberation Sans', sans-serif" font-size="9.5" fill="#2e2e2e" stroke="#2e2e2e" stroke-width="0.1" text-anchor="end">1.0</text><text x="32.3" y="313.1" font-family="'Liberation Sans', sans-serif" font-size="9.5" fill="#2e2e2e" stroke="#2e2e2e" stroke-width="0.1" text-anchor="end">0.9</text><text x="36.6" y="319.9" font-family="'Liberation Sans', sans-serif" font-size="9.5" fill="#2e2e2e" stroke="#2e2e2e" stroke-width="0.1" text-anchor="middle">-300</text><text x="82.43" y="319.9" font-family="'Liberation Sans', sans-serif" font-size="9.5" fill="#2e2e2e" stroke="#2e2e2e" stroke-width="0.1" text-anchor="middle">-200</text><text x="128.27" y="319.9" font-family="'Liberation Sans', sans-serif" font-size="9.5" fill="#2e2e2e" stroke="#2e2e2e" stroke-width="0.1" text-anchor="middle">-100</text><text x="174.1" y="319.9" font-family="'Liberation Sans', sans-serif" font-size="9.5" fill="#2e2e2e" stroke="#2e2e2e" stroke-width="0.1" text-anchor="middle">0</text><text x="219.93" y="319.9" font-family="'Liberation Sans', sans-serif" font-size="9.5" fill="#2e2e2e" stroke="#2e2e2e" stroke-width="0.1" text-anchor="middle">100</text><text x="265.77" y="319.9" font-family="'Liberation Sans', sans-serif" font-size="9.5" fill="#2e2e2e" stroke="#2e2e2e" stroke-width="0.1" text-anchor="middle">200</text><text x="311.6" y="319.9" font-family="'Liberation Sans', sans-serif" font-size="9.5" fill="#2e2e2e" stroke="#2e2e2e" stroke-width="0.1" text-anchor="middle">300</text><text x="174.1" y="338.1" font-family="'Liberation Sans', sans-serif" font-size="11.2" fill="#222" text-anchor="middle">Position (µm)</text><text x="174.1" y="10.6" font-family="'Liberation Sans', sans-serif" font-size="12.2" fill="#222" text-anchor="middle">Laser energy: 0.05 mJ</text><text transform="translate(10.9,168) rotate(-90)" font-family="'Liberation Sans', sans-serif" font-size="11.4" fill="#222" text-anchor="middle">Density (g/cm<tspan font-size="7" dy="-4">3</tspan><tspan dy="4">)</tspan></text><rect x="375.6" y="18.2" width="12.5" height="12" fill="#000"/><text x="381.85" y="26.9" font-family="'Liberation Sans', sans-serif" font-weight="bold" font-size="10" fill="#fff" text-anchor="middle">f</text><text x="393.2" y="27.4" font-family="'Liberation Sans', sans-serif" font-weight="bold" font-size="10.2" fill="#111">t = 34.6 ns</text><rect x="375.6" y="73.5" width="12.5" height="12" fill="#000"/><text x="381.85" y="82.2" font-family="'Liberation Sans', sans-serif" font-weight="bold" font-size="10" fill="#fff" text-anchor="middle">g</text><text x="393.2" y="82.7" font-family="'Liberation Sans', sans-serif" font-weight="bold" font-size="10.2" fill="#111">t = 43.3 ns</text><rect x="375.6" y="146.6" width="12.5" height="12" fill="#000"/><text x="381.85" y="155.3" font-family="'Liberation Sans', sans-serif" font-weight="bold" font-size="10" fill="#fff" text-anchor="middle">h</text><text x="393.2" y="155.8" font-family="'Liberation Sans', sans-serif" font-weight="bold" font-size="10.2" fill="#111">t = 69.9 ns</text><rect x="375.6" y="201.5" width="12.5" height="12" fill="#000"/><text x="381.85" y="210.2" font-family="'Liberation Sans', sans-serif" font-weight="bold" font-size="10" fill="#fff" text-anchor="middle">i</text><text x="393.2" y="210.7" font-family="'Liberation Sans', sans-serif" font-weight="bold" font-size="10.2" fill="#111">t = 86.5 ns</text><rect x="375.6" y="256.6" width="12.5" height="12" fill="#000"/><text x="381.85" y="265.3" font-family="'Liberation Sans', sans-serif" font-weight="bold" font-size="10" fill="#fff" text-anchor="middle">j</text><text x="393.2" y="265.8" font-family="'Liberation Sans', sans-serif" font-weight="bold" font-size="10.2" fill="#111">t = 94.7 ns</text><text x="371.5" y="20.1" font-family="'Liberation Sans', sans-serif" font-size="9.5" fill="#2e2e2e" stroke="#2e2e2e" stroke-width="0.1" text-anchor="end">1.2</text><text x="371.5" y="38.3" font-family="'Liberation Sans', sans-serif" font-size="9.5" fill="#2e2e2e" stroke="#2e2e2e" stroke-width="0.1" text-anchor="end">1.1</text><text x="371.5" y="56.5" font-family="'Liberation Sans', sans-serif" font-size="9.5" fill="#2e2e2e" stroke="#2e2e2e" stroke-width="0.1" text-anchor="end">1.0</text><text x="371.5" y="93.5" font-family="'Liberation Sans', sans-serif" font-size="9.5" fill="#2e2e2e" stroke="#2e2e2e" stroke-width="0.1" text-anchor="end">1.2</text><text x="371.5" y="111.7" font-family="'Liberation Sans', sans-serif" font-size="9.5" fill="#2e2e2e" stroke="#2e2e2e" stroke-width="0.1" text-anchor="end">1.1</text><text x="371.5" y="129.9" font-family="'Liberation Sans', sans-serif" font-size="9.5" fill="#2e2e2e" stroke="#2e2e2e" stroke-width="0.1" text-anchor="end">1.0</text><text x="371.5" y="166.6" font-family="'Liberation Sans', sans-serif" font-size="9.5" fill="#2e2e2e" stroke="#2e2e2e" stroke-width="0.1" text-anchor="end">1.1</text><text x="371.5" y="184.8" font-family="'Liberation Sans', sans-serif" font-size="9.5" fill="#2e2e2e" stroke="#2e2e2e" stroke-width="0.1" text-anchor="end">1.0</text><text x="371.5" y="221.5" font-family="'Liberation Sans', sans-serif" font-size="9.5" fill="#2e2e2e" stroke="#2e2e2e" stroke-width="0.1" text-anchor="end">1.1</text><text x="371.5" y="239.7" font-family="'Liberation Sans', sans-serif" font-size="9.5" fill="#2e2e2e" stroke="#2e2e2e" stroke-width="0.1" text-anchor="end">1.0</text><text x="371.5" y="276.7" font-family="'Liberation Sans', sans-serif" font-size="9.5" fill="#2e2e2e" stroke="#2e2e2e" stroke-width="0.1" text-anchor="end">1.1</text><text x="371.5" y="294.9" font-family="'Liberation Sans', sans-serif" font-size="9.5" fill="#2e2e2e" stroke="#2e2e2e" stroke-width="0.1" text-anchor="end">1.0</text><text x="371.5" y="313.1" font-family="'Liberation Sans', sans-serif" font-size="9.5" fill="#2e2e2e" stroke="#2e2e2e" stroke-width="0.1" text-anchor="end">0.9</text><text x="375.8" y="319.9" font-family="'Liberation Sans', sans-serif" font-size="9.5" fill="#2e2e2e" stroke="#2e2e2e" stroke-width="0.1" text-anchor="middle">-300</text><text x="421.65" y="319.9" font-family="'Liberation Sans', sans-serif" font-size="9.5" fill="#2e2e2e" stroke="#2e2e2e" stroke-width="0.1" text-anchor="middle">-200</text><text x="467.5" y="319.9" font-family="'Liberation Sans', sans-serif" font-size="9.5" fill="#2e2e2e" stroke="#2e2e2e" stroke-width="0.1" text-anchor="middle">-100</text><text x="513.35" y="319.9" font-family="'Liberation Sans', sans-serif" font-size="9.5" fill="#2e2e2e" stroke="#2e2e2e" stroke-width="0.1" text-anchor="middle">0</text><text x="559.2" y="319.9" font-family="'Liberation Sans', sans-serif" font-size="9.5" fill="#2e2e2e" stroke="#2e2e2e" stroke-width="0.1" text-anchor="middle">100</text><text x="605.05" y="319.9" font-family="'Liberation Sans', sans-serif" font-size="9.5" fill="#2e2e2e" stroke="#2e2e2e" stroke-width="0.1" text-anchor="middle">200</text><text x="650.9" y="319.9" font-family="'Liberation Sans', sans-serif" font-size="9.5" fill="#2e2e2e" stroke="#2e2e2e" stroke-width="0.1" text-anchor="middle">300</text><text x="513.35" y="338.1" font-family="'Liberation Sans', sans-serif" font-size="11.2" fill="#222" text-anchor="middle">Position (µm)</text><text x="513.35" y="10.6" font-family="'Liberation Sans', sans-serif" font-size="12.2" fill="#222" text-anchor="middle">Laser energy: 0.22 mJ</text><text transform="translate(349.8,171.2) rotate(-90)" font-family="'Liberation Sans', sans-serif" font-size="11.4" fill="#222" text-anchor="middle">Density (g/cm<tspan font-size="7" dy="-4">3</tspan><tspan dy="4">)</tspan></text></svg></body></html>
